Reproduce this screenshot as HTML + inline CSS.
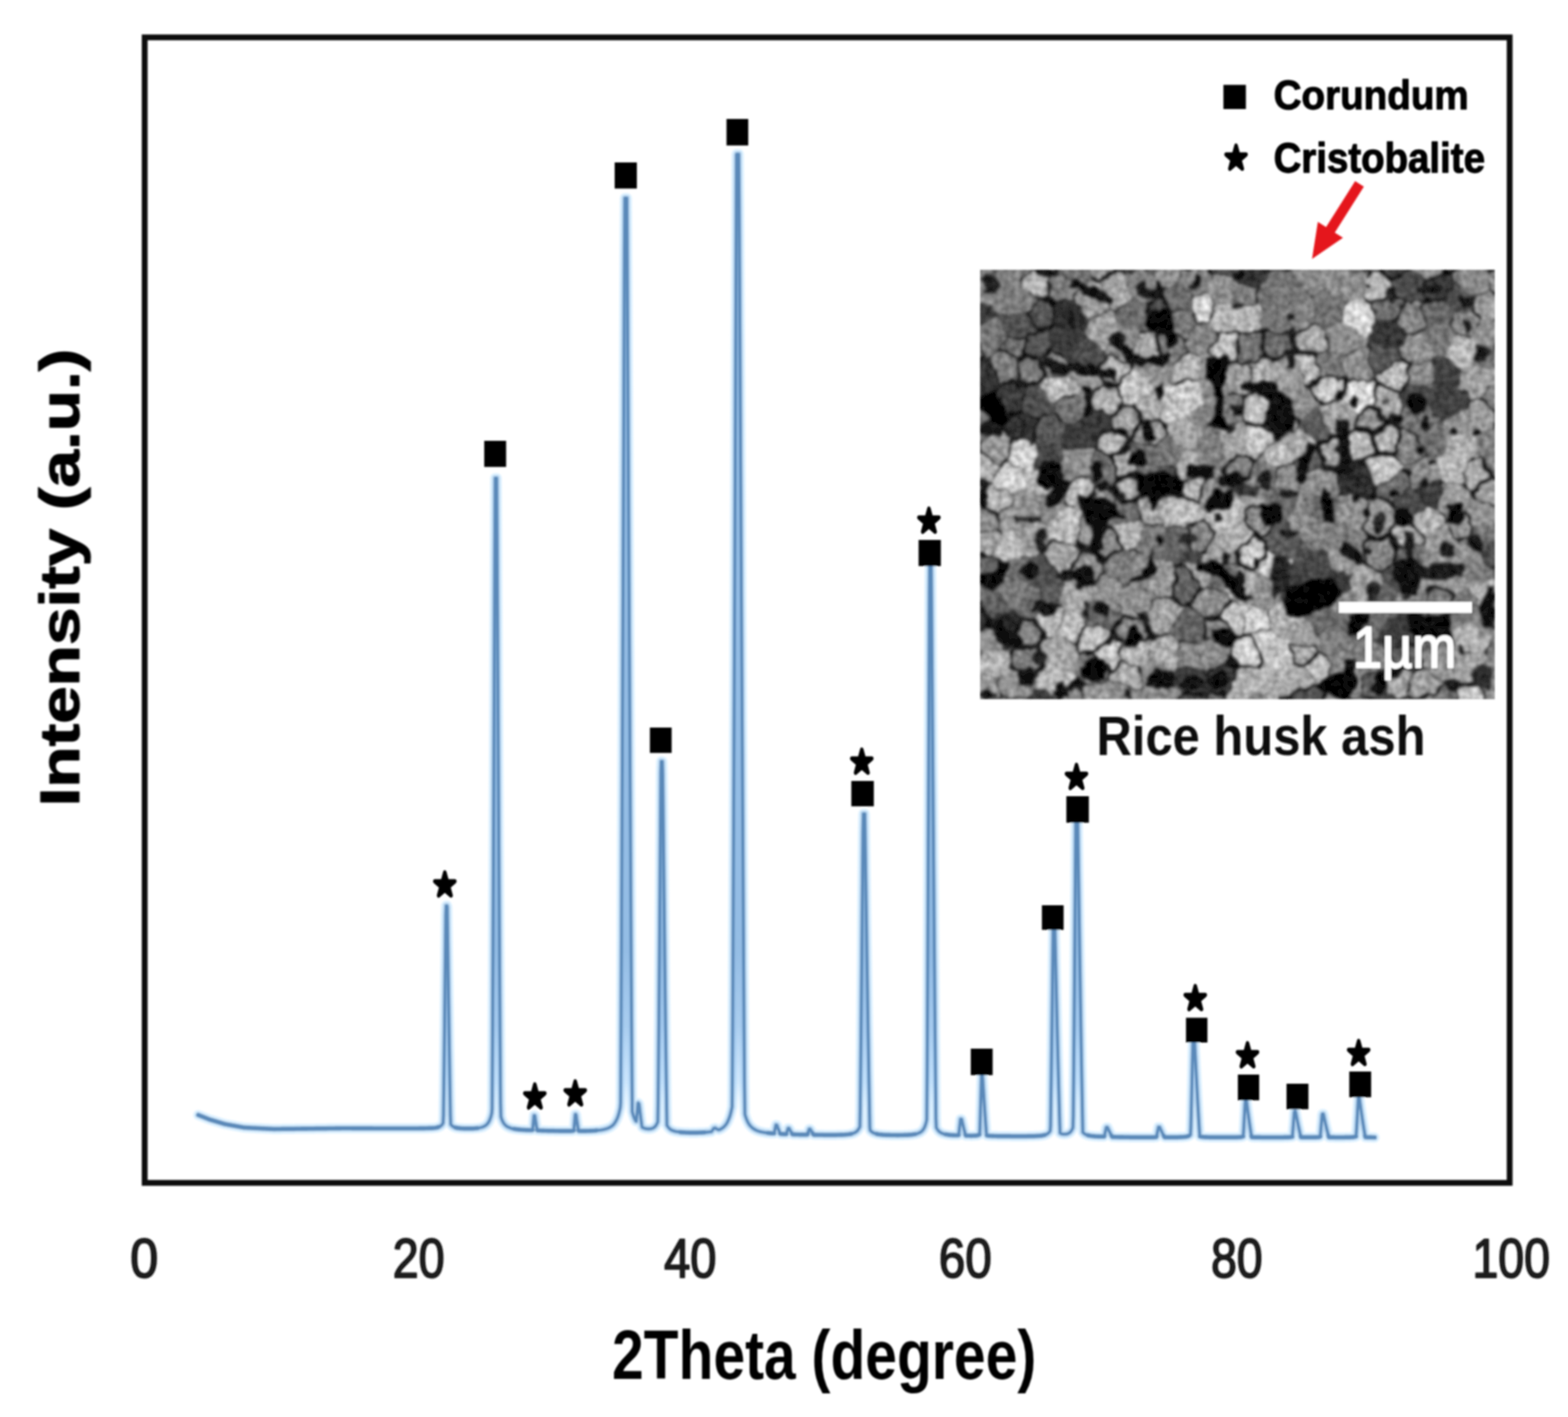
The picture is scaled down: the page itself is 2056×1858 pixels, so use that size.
<!DOCTYPE html>
<html lang="en"><head><meta charset="utf-8"><title>XRD pattern of rice husk ash</title>
<style>
html,body{margin:0;padding:0;background:#fff;}
body{width:2056px;height:1858px;overflow:hidden;}
svg{display:block;}
text{white-space:pre;}
</style></head><body>
<svg width="2056" height="1858" viewBox="0 0 2056 1858">
<defs>
<filter id="soft" x="-2%" y="-2%" width="104%" height="104%"><feGaussianBlur stdDeviation="1.3"/></filter>
</defs>
<rect width="2056" height="1858" fill="#fff"/>
<g filter="url(#soft)">
<g id="curve"><defs><path id="cv" d="M260,1462 260.5,1462.2 261,1462.4 261.5,1462.6 262,1462.8 262.5,1463 263,1463.2 263.5,1463.4 264,1463.6 264.5,1463.8 265,1464 265.5,1464.2 266,1464.4 266.5,1464.6 267,1464.8 267.5,1465 268,1465.2 268.5,1465.4 269,1465.6 269.5,1465.8 270,1466 270.5,1466.2 271,1466.4 271.5,1466.6 272,1466.8 272.5,1467 273,1467.2 273.5,1467.4 274,1467.6 274.5,1467.8 275,1468 275.5,1468.1 276,1468.3 276.5,1468.4 277,1468.6 277.5,1468.7 278,1468.9 278.5,1469 279,1469.2 279.5,1469.3 280,1469.5 280.5,1469.6 281,1469.8 281.5,1469.9 282,1470.1 282.5,1470.2 283,1470.4 283.5,1470.5 284,1470.7 284.5,1470.8 285,1471 285.5,1471.1 286,1471.3 286.5,1471.4 287,1471.6 287.5,1471.7 288,1471.9 288.5,1472 289,1472.2 289.5,1472.3 290,1472.5 290.5,1472.6 291,1472.8 291.5,1472.9 292,1473.1 292.5,1473.2 293,1473.4 293.5,1473.5 294,1473.7 294.5,1473.8 295,1474 295.5,1474.1 296,1474.1 296.5,1474.2 297,1474.3 297.5,1474.4 298,1474.5 298.5,1474.6 299,1474.7 299.5,1474.8 300,1474.9 300.5,1475 301,1475 301.5,1475.1 302,1475.2 302.5,1475.3 303,1475.4 303.5,1475.5 304,1475.6 304.5,1475.7 305,1475.8 305.5,1475.9 306,1475.9 306.5,1476 307,1476.1 307.5,1476.2 308,1476.3 308.5,1476.4 309,1476.5 309.5,1476.6 310,1476.7 310.5,1476.8 311,1476.8 311.5,1476.9 312,1477 312.5,1477.1 313,1477.2 313.5,1477.3 314,1477.4 314.5,1477.5 315,1477.6 315.5,1477.6 316,1477.7 316.5,1477.8 317,1477.9 317.5,1478 318,1478.1 318.5,1478.2 319,1478.3 319.5,1478.4 320,1478.5 320.5,1478.5 321,1478.5 321.5,1478.5 322,1478.6 322.5,1478.6 323,1478.6 323.5,1478.6 324,1478.7 324.5,1478.7 325,1478.7 325.5,1478.7 326,1478.8 326.5,1478.8 327,1478.8 327.5,1478.8 328,1478.9 328.5,1478.9 329,1478.9 329.5,1478.9 330,1479 332,1479.1 334,1479.2 336,1479.3 338,1479.4 340,1479.5 342,1479.6 344,1479.7 346,1479.8 348,1479.9 350,1480 352,1480.1 354,1480.2 356,1480.3 358,1480.4 360,1480.5 362,1480.4 364,1480.4 366,1480.4 368,1480.4 370,1480.3 372,1480.3 374,1480.3 376,1480.3 378,1480.2 380,1480.2 382,1480.2 384,1480.2 386,1480.2 388,1480.1 390,1480.1 392,1480.1 394,1480.1 396,1480 398,1480 400,1480 402,1480 404,1479.9 406,1479.9 408,1479.9 410,1479.9 412,1479.9 414,1479.8 416,1479.8 418,1479.8 420,1479.8 422,1479.7 424,1479.7 426,1479.7 428,1479.7 430,1479.6 432,1479.6 434,1479.6 436,1479.6 438,1479.6 440,1479.5 442,1479.5 444,1479.5 446,1479.5 448,1479.4 450,1479.4 452,1479.4 454,1479.4 456,1479.4 458,1479.4 460,1479.4 462,1479.5 464,1479.5 466,1479.5 468,1479.5 470,1479.5 472,1479.5 474,1479.5 476,1479.5 478,1479.5 480,1479.5 482,1479.5 484,1479.5 486,1479.5 488,1479.5 490,1479.6 492,1479.6 494,1479.6 496,1479.6 498,1479.6 500,1479.6 502,1479.6 504,1479.6 506,1479.6 508,1479.6 510,1479.6 512,1479.6 514,1479.6 516,1479.6 518,1479.6 520,1479.6 522,1479.6 524,1479.6 526,1479.6 528,1479.6 530,1479.6 532,1479.6 534,1479.6 536,1479.6 538,1479.6 540,1479.6 542,1479.6 544,1479.6 546,1479.6 548,1479.6 550,1479.5 552,1479.5 554,1479.5 556,1479.5 558,1479.4 560,1479.4 562,1479.3 564,1479.3 566,1479.2 568,1479.1 570,1478.9 572,1478.6 574,1478.1 574.5,1478 575,1477.8 575.5,1477.6 576,1477.4 576.5,1477.2 577,1476.9 577.5,1476.6 578,1476.2 578.5,1475.8 579,1475.3 579.5,1474.8 580,1474.1 580.5,1473.3 581,1472.5 581.5,1462.3 582,1423.9 582.5,1382 583,1338.1 583.5,1292.8 584,1246.6 584.5,1199.7 585,1187.6 585.5,1187.6 586,1187.6 586.5,1189.3 587,1225.7 587.5,1261.9 588,1297.6 588.5,1332.7 589,1366.9 589.5,1400.1 590,1431.8 590.5,1461.3 591,1474.1 591.5,1474.8 592,1475.4 592.5,1475.9 593,1476.3 593.5,1476.7 594,1477.1 594.5,1477.3 595,1477.6 595.5,1477.8 596,1478 596.5,1478.2 597,1478.4 597.5,1478.5 598,1478.6 598.5,1478.8 599,1478.9 599.5,1479 600,1479 600.5,1479.1 601,1479.2 601.5,1479.3 602,1479.3 604,1479.5 606,1479.6 608,1479.7 610,1479.8 612,1479.8 614,1479.8 616,1479.8 618,1479.8 620,1479.7 622,1479.6 624,1479.4 626,1479.2 628,1478.9 630,1478.5 632,1478 634,1477.3 636,1476.2 638,1474.7 638.8,1473.9 639.3,1473.3 639.8,1472.7 640,1472.4 640.3,1472 640.8,1471.2 641.3,1470.2 641.8,1469.2 642,1468.8 642.3,1468.1 642.8,1466.7 643.3,1465.3 643.8,1463.6 644,1462.8 644.3,1461.7 644.8,1459.5 645.3,1454.2 645.8,1365.9 646,1326.9 646.3,1266.3 646.8,1161.5 647.3,1053.1 647.8,941.9 648,896.8 648.3,828.7 648.8,713.9 649.3,626.9 649.8,626.9 650,626.9 650.3,626.9 650.8,626.9 651.3,626.9 651.8,702.9 652,738.8 652.3,792.4 652.8,881.1 653.3,968.7 653.8,1054.9 654,1088.9 654.3,1139.3 654.8,1221.6 655.3,1301.2 655.8,1377.1 656,1406 656.3,1446.6 656.8,1464 657.3,1465.7 657.8,1467.2 658,1467.7 658.3,1468.5 658.8,1469.7 659.3,1470.7 659.8,1471.7 660,1472 660.3,1472.5 660.8,1473.2 661.3,1473.9 661.8,1474.5 662,1474.7 662.3,1475 662.8,1475.5 663.3,1475.9 663.8,1476.3 664,1476.5 664.3,1476.7 664.8,1477 665.3,1477.3 665.8,1477.6 666,1477.7 666.3,1477.9 666.8,1478.1 668,1478.6 670,1479.3 672,1479.8 674,1480.2 676,1480.5 678,1480.8 680,1481 682,1481.2 684,1481.4 686,1481.5 688,1481.6 689.3,1481.7 689.8,1481.7 690,1481.7 690.3,1481.7 690.8,1481.8 691.3,1481.8 691.8,1481.8 692,1481.8 692.3,1481.8 692.8,1481.8 693.3,1481.8 693.8,1481.9 694,1481.9 694.3,1481.9 694.8,1481.9 695.3,1481.9 695.8,1481.8 696,1481.8 696.3,1481.8 696.8,1481.8 697.3,1481.8 697.8,1481.7 698,1481.7 698.3,1481.6 698.8,1477.3 699.3,1472.3 699.8,1466.9 700,1464.8 700.3,1462.7 700.8,1462.7 701.3,1463.1 701.8,1466.4 702,1467.7 702.3,1469.7 702.8,1472.9 703.3,1476 703.8,1478.9 704,1480 704.3,1481.5 704.8,1482.1 705.3,1482.2 705.8,1482.2 706,1482.2 706.3,1482.2 706.8,1482.3 707.3,1482.3 707.8,1482.3 708,1482.4 708.3,1482.4 708.8,1482.4 709.3,1482.4 709.8,1482.4 710,1482.4 710.3,1482.5 710.8,1482.5 711.3,1482.5 711.8,1482.5 712,1482.5 712.3,1482.5 712.8,1482.5 713.3,1482.6 713.8,1482.6 714,1482.6 714.3,1482.6 714.8,1482.6 715.3,1482.6 715.8,1482.6 716,1482.6 716.3,1482.6 716.8,1482.6 717.3,1482.7 718,1482.7 720,1482.7 722,1482.8 724,1482.8 726,1482.8 728,1482.9 730,1482.9 732,1482.9 734,1483 736,1483 738,1483 740,1483 742,1483 743.4,1483 743.9,1483 744,1483 744.4,1483 744.9,1483 745.4,1483 745.9,1483 746,1483 746.4,1483 746.9,1483 747.4,1483 747.9,1483 748,1483 748.4,1483 748.9,1482.9 749.4,1482.9 749.9,1482.9 750,1482.9 750.4,1482.8 750.9,1482.8 751.4,1482.7 751.9,1482.6 752,1482.6 752.4,1482.1 752.9,1477 753.4,1471.3 753.9,1465.2 754,1464 754.4,1461.2 754.9,1461.2 755.4,1462.1 755.9,1465.7 756,1466.4 756.4,1469.2 756.9,1472.6 757.4,1475.9 757.9,1479 758,1479.6 758.4,1481.8 758.9,1482.8 759.4,1482.9 759.9,1482.9 760,1482.9 760.4,1482.9 760.9,1482.9 761.4,1483 761.9,1483 762,1483 762.4,1483 762.9,1483 763.4,1483 763.9,1483 764,1483 764.4,1483 764.9,1483 765.4,1483 765.9,1483 766,1483 766.4,1483 766.9,1483 767.4,1483 767.9,1483 768,1483 768.4,1483 768.9,1482.9 769.4,1482.9 769.9,1482.9 770,1482.9 770.4,1482.9 770.9,1482.9 771.4,1482.9 772,1482.9 774,1482.8 776,1482.7 778,1482.6 780,1482.5 782,1482.3 784,1482.1 786,1481.9 788,1481.7 790,1481.3 792,1480.9 794,1480.4 796,1479.8 798,1479 800,1478 802,1476.7 804,1475 806,1472.6 808,1469.3 809.3,1466.5 809.8,1465.3 810,1464.7 810.3,1463.9 810.8,1462.4 811.3,1460.7 811.8,1458.9 812,1458.1 812.3,1456.9 812.8,1454.7 813.3,1452.3 813.8,1446.1 814,1412.3 814.3,1355.5 814.8,1253.8 815.3,1146.7 815.8,1035.9 816,990.8 816.3,922.3 816.8,806.3 817.3,688.5 817.8,569.1 818,521 818.3,448.5 818.8,327 819.3,259.7 819.8,259.7 820,259.7 820.3,259.7 820.8,259.7 821.3,259.7 821.8,259.7 822,259.7 822.3,303.4 822.8,397.4 823.3,491.1 823.8,584.3 824,621.4 824.3,676.7 824.8,768.2 825.3,858.6 825.8,947.6 826,982.8 826.3,1035.1 826.5,1069.6 826.8,1120.8 827,1154.6 827.3,1204.5 827.5,1237.2 827.8,1285.5 828,1317 828.3,1363 828.5,1392.6 828.8,1434.5 829,1457.4 829.3,1458.6 829.5,1459.4 829.8,1460.4 830,1461.1 830.3,1462.1 830.5,1462.7 830.8,1463.6 831,1464.1 831.3,1464.9 831.5,1465.5 831.8,1466.2 832,1466.6 832.3,1467.3 832.5,1467.7 832.8,1468.3 833,1468.7 833.3,1469.2 833.5,1469.5 833.8,1470 834,1470.2 834.3,1470.3 834.5,1468.6 834.8,1465.8 835,1463.8 835.3,1460.7 835.5,1458.5 835.8,1455.2 836,1452.9 836.3,1449.5 836.5,1447.1 836.8,1446.3 837,1446.5 837.3,1446.8 837.5,1447 838,1448.1 838.5,1452.3 839,1456.5 839.5,1460.6 840,1464.6 840.5,1468.4 841,1472 841.5,1475.5 842,1478 842.5,1478.3 843,1478.5 843.5,1478.8 844,1479 844.5,1479.2 845,1479.4 845.5,1479.5 846,1479.7 846.5,1479.8 847,1479.9 847.5,1480 848,1480.1 848.5,1480.1 849,1480.2 849.5,1480.2 850,1480.3 850.5,1480.3 851,1480.3 851.5,1480.2 852,1480.2 852.5,1480.2 853,1480.1 853.5,1480 854,1479.9 856,1479.2 856.5,1479 857,1478.7 857.5,1478.4 858,1478 858.5,1477.6 859,1477.1 859.5,1476.5 860,1475.8 860.5,1475.1 861,1474.2 861.5,1473.2 862,1472.1 862.5,1470.9 863,1443.5 863.5,1389.1 864,1330.8 864.5,1270 865,1207.5 865.5,1143.6 866,1078.8 866.5,1013.2 867,998.3 867.5,998.3 868,998.4 868.5,998.4 869,1015.6 869.5,1061.5 870,1107.3 870.5,1152.6 871,1197.5 871.5,1241.6 872,1284.8 872.5,1327.1 873,1368.2 873.5,1407.8 874,1445.2 874.5,1475.3 875,1476.3 875.5,1477.1 876,1477.8 876.5,1478.4 877,1479 877.5,1479.5 878,1480 878.5,1480.4 879,1480.8 879.5,1481.1 880,1481.4 880.5,1481.7 881,1481.9 881.5,1482.2 882,1482.4 882.5,1482.6 883,1482.7 883.5,1482.9 884,1483.1 884.5,1483.2 886,1483.6 888,1483.9 890,1484.2 892,1484.5 894,1484.7 896,1484.8 898,1484.9 900,1485.1 902,1485.1 904,1485.2 906,1485.2 908,1485.2 910,1485.2 912,1485.2 914,1485.2 916,1485.1 918,1485.1 920,1485 922,1484.9 924,1484.8 925.7,1484.7 926,1484.6 926.2,1484.6 926.7,1484.6 927.2,1484.5 927.7,1484.5 928,1484.5 928.2,1484.5 928.7,1484.4 929.2,1484.3 929.7,1484.3 930,1484.2 930.2,1484.2 930.7,1484.2 931.2,1484.1 931.7,1484 932,1484 932.2,1483.9 932.7,1483.9 933.2,1483.4 933.7,1482.8 934,1482.3 934.2,1482.1 934.7,1481.3 935.2,1480.6 935.7,1479.9 936,1479.5 936.2,1479.4 936.7,1479.3 937.2,1479.2 937.7,1479.1 938,1479.3 938.2,1479.4 938.7,1479.7 939.2,1480 939.7,1480.2 940,1480.4 940.2,1480.5 940.7,1480.7 941.2,1480.9 941.7,1481.1 942,1481.2 942.2,1481.3 942.7,1481.4 943.2,1481.2 943.7,1481 944,1480.9 944.2,1480.8 944.7,1480.5 945.2,1480.3 945.7,1480 946,1479.8 946.2,1479.7 946.7,1479.4 947.2,1479.1 947.7,1478.7 948,1478.5 948.2,1478.3 948.7,1477.9 949.2,1477.5 949.7,1477 950,1476.7 950.2,1476.5 950.7,1475.9 951.2,1475.3 951.7,1474.7 952,1474.3 952.2,1474 952.7,1473.2 953.2,1472.4 953.7,1471.6 954,1471 956,1466.5 956.2,1465.9 956.7,1464.5 957.2,1462.9 957.7,1461.2 958,1460.1 958.2,1459.3 958.7,1457.3 959.2,1455 959.7,1452.6 960,1451.1 960.2,1433.5 960.7,1341.2 961.2,1239.8 961.7,1133.6 962,1068.2 962.2,1024 962.7,911.6 963.2,797 963.7,680.6 964,610.1 964.2,562.7 964.7,443.6 965.2,323.5 965.7,202.8 966,202.1 966.2,202.1 966.7,202.1 967.2,202.1 967.7,202.1 968,202.1 968.2,202.1 968.7,202.1 969.2,261.1 969.7,350.5 970,404.1 970.2,439.7 970.7,528.4 971.2,616.6 971.7,703.9 972,755.8 972.2,790.3 972.7,875.6 973.2,959.7 973.7,1042.4 974,1091.2 974.2,1123.4 974.7,1202.6 975.2,1279.5 975.7,1353.3 976,1395.5 976.2,1422.4 976.7,1460.8 977.2,1462.6 977.7,1464.2 978,1465.1 978.2,1465.7 978.7,1467.1 979.2,1468.4 979.7,1469.5 980,1470.2 980.2,1470.6 980.7,1471.6 981.2,1472.5 981.7,1473.4 982,1473.8 982.2,1474.1 982.7,1474.9 983.2,1475.5 983.7,1476.2 984,1476.5 984.2,1476.7 986,1478.5 988,1480 990,1481.2 992,1482.2 994,1483 996,1483.6 998,1484.1 1000,1484.5 1002,1484.9 1004,1485.2 1006,1485.5 1007,1485.6 1007.5,1485.6 1008,1485.7 1008.5,1485.7 1009,1485.8 1009.5,1485.8 1010,1485.9 1010.5,1485.9 1011,1486 1011.5,1486 1012,1486 1012.5,1486 1013,1486.1 1013.5,1486.1 1014,1486.1 1014.5,1486.1 1015,1486.1 1015.5,1484.2 1016,1481.9 1016.5,1479.5 1017,1477 1017.5,1475.1 1018,1475.2 1018.5,1475.2 1019,1476.1 1019.5,1477.5 1020,1478.9 1020.5,1480.2 1021,1481.6 1021.5,1482.8 1022,1484.1 1022.5,1485.3 1023,1486.3 1023.5,1486.7 1024,1486.8 1024.5,1486.8 1025,1486.8 1025.5,1486.9 1026,1486.9 1026.5,1486.9 1027,1486.9 1027.5,1487 1028,1487 1028.5,1487 1029,1487 1029.5,1487 1030,1487 1030.5,1487 1031,1487 1031.5,1485.6 1032,1484 1032.5,1482.3 1033,1480.6 1033.5,1479.4 1034,1479.4 1034.5,1479.4 1035,1480.1 1035.5,1481.1 1036,1482 1036.5,1482.9 1037,1483.8 1037.5,1484.7 1038,1485.5 1038.5,1486.3 1039,1487.1 1039.5,1487.4 1040,1487.4 1040.5,1487.4 1041,1487.5 1041.5,1487.5 1042,1487.5 1042.5,1487.5 1043,1487.5 1043.5,1487.6 1044,1487.6 1044.5,1487.6 1045,1487.6 1045.5,1487.6 1046,1487.6 1046.5,1487.6 1047,1487.6 1047.5,1487.7 1048,1487.7 1048.5,1487.7 1049,1487.7 1049.5,1487.7 1050,1487.7 1050.5,1487.7 1050.7,1487.7 1051,1487.7 1051.2,1487.7 1051.7,1487.7 1052,1487.7 1052.2,1487.7 1052.7,1487.8 1053.2,1487.8 1053.7,1487.8 1054,1487.8 1054.2,1487.8 1054.7,1487.8 1055.2,1487.8 1055.7,1487.8 1056,1487.8 1056.2,1487.8 1056.7,1487.8 1057.2,1487.8 1057.7,1487.7 1058,1487.7 1058.2,1487.7 1058.7,1487.6 1059.2,1486.2 1059.7,1484.7 1060,1483.8 1060.2,1483.1 1060.7,1481.4 1061.2,1480.4 1061.7,1480.4 1062,1480.4 1062.2,1480.4 1062.7,1481.1 1063.2,1482 1063.7,1482.9 1064,1483.4 1064.2,1483.7 1064.7,1484.6 1065.2,1485.4 1065.7,1486.2 1066,1486.6 1066.2,1486.9 1066.7,1487.6 1067.2,1487.9 1067.7,1488 1068,1488 1068.2,1488 1068.7,1488 1069.2,1488 1069.7,1488 1070,1488 1070.2,1488 1070.7,1488 1071.2,1488.1 1071.7,1488.1 1072,1488.1 1072.2,1488.1 1072.7,1488.1 1073.2,1488.1 1073.7,1488.1 1074,1488.1 1074.2,1488.1 1074.7,1488.1 1075.2,1488.1 1075.7,1488.1 1076,1488.1 1076.2,1488.1 1076.7,1488.1 1077.2,1488.1 1077.7,1488.1 1078,1488.1 1078.2,1488.1 1078.7,1488.1 1080,1488.2 1082,1488.2 1084,1488.2 1086,1488.2 1088,1488.2 1090,1488.2 1092,1488.2 1094,1488.2 1096,1488.2 1098,1488.1 1100,1488.1 1102,1488 1104,1488 1106,1487.9 1108,1487.8 1110,1487.6 1112,1487.4 1114,1487.1 1116,1486.8 1118,1486.3 1120,1485.5 1122,1484.5 1122.5,1484.1 1123,1483.7 1123.5,1483.3 1124,1482.8 1124.5,1482.3 1125,1481.6 1125.5,1480.9 1126,1480.2 1126.5,1479.3 1127,1478.3 1127.5,1477.2 1128,1450.3 1128.5,1404.7 1129,1355.9 1129.5,1305.3 1130,1253.2 1130.5,1200 1131,1146 1131.5,1091.3 1132,1067.1 1132.5,1067.1 1133,1067.1 1133.5,1067.1 1134,1067.1 1134.5,1100.9 1135,1135.2 1135.5,1169.4 1136,1203.3 1136.5,1236.8 1137,1269.8 1137.5,1302.3 1138,1334.2 1138.5,1365.3 1139,1395.6 1139.5,1424.9 1140,1452.8 1140.5,1478 1141,1482 1141.5,1482.6 1142,1483.1 1142.5,1483.6 1143,1484 1143.5,1484.4 1144,1484.7 1144.5,1485 1145,1485.3 1145.5,1485.5 1146,1485.7 1146.5,1486 1147,1486.1 1147.5,1486.3 1148,1486.5 1148.5,1486.6 1149,1486.7 1149.5,1486.8 1150,1487 1152,1487.3 1154,1487.6 1156,1487.8 1158,1488 1160,1488.1 1162,1488.2 1164,1488.3 1166,1488.3 1168,1488.4 1170,1488.4 1172,1488.4 1174,1488.4 1176,1488.5 1178,1488.5 1180,1488.4 1182,1488.4 1184,1488.4 1186,1488.3 1188,1488.3 1190,1488.2 1192,1488 1194,1487.9 1196,1487.7 1198,1487.4 1200,1487.1 1202,1486.7 1204,1486 1206,1485.1 1208,1483.8 1209.2,1482.7 1209.7,1482.2 1210,1481.8 1210.2,1481.6 1210.7,1480.9 1211.2,1480.1 1211.7,1479.2 1212,1478.6 1212.2,1478.2 1212.7,1477 1213.2,1475.7 1213.7,1474.1 1214,1473.1 1214.2,1472.4 1214.7,1470.4 1215.2,1468.1 1215.7,1407.9 1216,1351.5 1216.2,1312.3 1216.7,1210.5 1217.2,1104.8 1217.7,996.1 1218,929.8 1218.2,885.3 1218.7,772.9 1219.2,721.2 1219.7,721.2 1220,721.2 1220.2,721.2 1220.7,721.2 1221.2,753.2 1221.7,818 1222,856.8 1222.2,882.6 1222.7,946.8 1223.2,1010.2 1223.7,1072.7 1224,1109.7 1224.2,1134.1 1224.7,1194.3 1225.2,1253.1 1225.7,1310.3 1226,1343.7 1226.2,1365.6 1226.7,1418.2 1227.2,1466.4 1227.7,1478.3 1228,1478.9 1228.2,1479.3 1228.7,1480.2 1229.2,1481 1229.7,1481.7 1230,1482.1 1230.2,1482.3 1230.7,1482.9 1231.2,1483.4 1231.7,1483.8 1232,1484.1 1232.2,1484.2 1232.7,1484.6 1233.2,1484.9 1233.7,1485.2 1234,1485.4 1234.2,1485.5 1234.7,1485.7 1235.2,1486 1235.7,1486.2 1236,1486.3 1236.2,1486.4 1236.7,1486.5 1237.2,1486.7 1238,1486.9 1240,1487.4 1242,1487.7 1244,1488 1246,1488.2 1248,1488.4 1249.5,1488.5 1250,1488.5 1250.5,1488.5 1251,1488.5 1251.5,1488.6 1252,1488.6 1252.5,1488.6 1253,1488.6 1253.5,1488.6 1254,1488.6 1254.5,1488.6 1255,1488.5 1255.5,1488.5 1256,1488.5 1256.5,1488.4 1257,1488.2 1257.5,1484.6 1258,1480.5 1258.5,1476.2 1259,1471.7 1259.5,1467.4 1260,1467.4 1260.5,1467.4 1261,1467.9 1261.5,1470.1 1262,1472.3 1262.5,1474.4 1263,1476.6 1263.5,1478.6 1264,1480.7 1264.5,1482.6 1265,1484.5 1265.5,1486.3 1266,1488 1266.5,1489 1267,1489 1267.5,1489 1268,1489 1268.5,1489.1 1269,1489.1 1269.5,1489.1 1270,1489.1 1270.5,1489.1 1271,1489.1 1271.5,1489.1 1272,1489.2 1272.5,1489.2 1273,1489.2 1273.5,1489.2 1274,1489.2 1274.5,1489.2 1275,1489.2 1275.5,1489.1 1276,1489.1 1276.5,1489.1 1277,1489.1 1277.5,1489.1 1278,1489.1 1278.5,1489 1279,1489 1279.5,1489 1280,1488.9 1280.5,1488.8 1281,1488.8 1281.5,1488.7 1282,1488.5 1282.5,1488.4 1283,1488.2 1283.5,1488 1284,1487.7 1284.5,1487.4 1285,1477.5 1285.5,1461.9 1286,1445.2 1286.5,1427.8 1287,1410.9 1287.5,1410.9 1288,1410.9 1288.5,1414.1 1289,1422.1 1289.5,1430.1 1290,1438 1290.5,1445.7 1291,1453.3 1291.5,1460.6 1292,1467.7 1292.5,1474.6 1293,1481.2 1293.5,1487.2 1294,1488.8 1294.5,1488.9 1295,1489 1295.5,1489.1 1296,1489.2 1296.5,1489.2 1297,1489.3 1297.5,1489.3 1298,1489.3 1298.5,1489.4 1299,1489.4 1299.5,1489.4 1300,1489.4 1300.5,1489.5 1301,1489.5 1301.5,1489.5 1302,1489.5 1302.5,1489.5 1303,1489.6 1303.5,1489.6 1304,1489.6 1304.5,1489.6 1305,1489.6 1306,1489.6 1308,1489.7 1310,1489.7 1312,1489.7 1314,1489.8 1316,1489.8 1318,1489.8 1320,1489.8 1322,1489.8 1324,1489.8 1326,1489.9 1328,1489.9 1330,1489.9 1332,1489.9 1334,1489.9 1336,1489.9 1338,1489.9 1340,1489.9 1342,1489.9 1344,1489.9 1346,1489.9 1348,1489.8 1350,1489.8 1352,1489.8 1354,1489.7 1356,1489.7 1358,1489.6 1360,1489.5 1362,1489.4 1364,1489.2 1366,1489 1368,1488.6 1370,1488.2 1371.5,1487.6 1372,1487.4 1372.5,1487.2 1373,1486.9 1373.5,1486.6 1374,1486.2 1374.5,1485.8 1375,1485.3 1375.5,1484.8 1376,1484.2 1376.5,1483.5 1377,1482.7 1377.5,1476.3 1378,1443.3 1378.5,1407 1379,1369 1379.5,1329.7 1380,1289.5 1380.5,1248.6 1381,1208.8 1381.5,1208.8 1382,1208.8 1382.5,1208.8 1383,1208.8 1383.5,1230.4 1384,1252.3 1384.5,1274.2 1385,1295.8 1385.5,1317.2 1386,1338.3 1386.5,1359 1387,1379.3 1387.5,1399.1 1388,1418.5 1388.5,1437.3 1389,1455.4 1389.5,1472.5 1390,1485.7 1390.5,1486 1391,1486.2 1391.5,1486.5 1392,1486.7 1392.5,1486.8 1393,1486.9 1393.5,1487 1394,1487.1 1394.5,1487.2 1395,1487.2 1395.5,1487.2 1396,1487.2 1396.5,1487.2 1397,1487.2 1397.5,1487.1 1398,1487.1 1398.5,1487 1399,1486.8 1399.5,1486.7 1400,1486.5 1401.3,1485.9 1401.8,1485.6 1402,1485.5 1402.3,1485.3 1402.8,1484.9 1403.3,1484.4 1403.8,1483.9 1404,1483.7 1404.3,1483.3 1404.8,1482.6 1405.3,1481.8 1405.8,1480.9 1406,1480.5 1406.3,1479.8 1406.8,1478.6 1407.3,1464.2 1407.8,1411.9 1408,1389.5 1408.3,1354.9 1408.8,1295.3 1409.3,1233.7 1409.8,1170.8 1410,1145.3 1410.3,1106.9 1410.8,1050.9 1411.3,1050.9 1411.8,1051 1412,1051 1412.3,1051 1412.8,1053.8 1413.3,1087.6 1413.8,1121.4 1414,1134.9 1414.3,1155.1 1414.8,1188.5 1415.3,1221.4 1415.8,1253.9 1416,1266.7 1416.3,1285.8 1416.8,1317.2 1417.3,1347.8 1417.8,1377.7 1418,1389.5 1418.3,1406.8 1418.8,1434.8 1419.3,1461.4 1419.8,1484.6 1420,1484.8 1420.3,1485.1 1420.8,1485.6 1421.3,1486 1421.8,1486.4 1422,1486.6 1422.3,1486.8 1422.8,1487.1 1423.3,1487.3 1423.8,1487.6 1424,1487.7 1424.3,1487.8 1424.8,1488 1425.3,1488.2 1425.8,1488.4 1426,1488.4 1426.3,1488.5 1426.8,1488.7 1427.3,1488.8 1427.8,1488.9 1428,1488.9 1428.3,1489 1428.8,1489.1 1429.3,1489.2 1430,1489.3 1432,1489.6 1434,1489.8 1436,1490 1438,1490.1 1440,1490.2 1441,1490.3 1441.5,1490.3 1442,1490.3 1442.5,1490.3 1443,1490.3 1443.5,1490.3 1444,1490.3 1444.5,1490.3 1445,1490.3 1445.5,1490.3 1446,1490.3 1446.5,1490.3 1447,1490.3 1447.5,1490.3 1448,1489.8 1448.5,1487.9 1449,1485.7 1449.5,1483.5 1450,1481.1 1450.5,1478.7 1451,1478.2 1451.5,1478.2 1452,1478.2 1452.5,1479 1453,1480.1 1453.5,1481.2 1454,1482.3 1454.5,1483.3 1455,1484.3 1455.5,1485.4 1456,1486.3 1456.5,1487.3 1457,1488.2 1457.5,1489.1 1458,1490 1458.5,1490.7 1459,1490.7 1459.5,1490.8 1460,1490.8 1460.5,1490.8 1461,1490.8 1461.5,1490.8 1462,1490.8 1462.5,1490.8 1463,1490.9 1463.5,1490.9 1464,1490.9 1464.5,1490.9 1465,1490.9 1465.5,1490.9 1466,1490.9 1466.5,1490.9 1467,1490.9 1467.5,1491 1468,1491 1468.5,1491 1469,1491 1470,1491 1472,1491 1474,1491.1 1476,1491.1 1478,1491.1 1480,1491.1 1482,1491.2 1484,1491.2 1486,1491.2 1488,1491.2 1490,1491.2 1492,1491.3 1494,1491.3 1496,1491.3 1498,1491.3 1500,1491.3 1502,1491.3 1504,1491.3 1506,1491.3 1508,1491.3 1509.5,1491.3 1510,1491.3 1510.5,1491.3 1511,1491.2 1511.5,1491.2 1512,1491.2 1512.5,1491.2 1513,1491.2 1513.5,1491.2 1514,1491.1 1514.5,1491.1 1515,1491.1 1515.5,1491 1516,1491 1516.5,1490.1 1517,1487.9 1517.5,1485.5 1518,1483 1518.5,1480.5 1519,1477.9 1519.5,1477.9 1520,1477.9 1520.5,1477.9 1521,1479 1521.5,1480.1 1522,1481.2 1522.5,1482.3 1523,1483.4 1523.5,1484.4 1524,1485.5 1524.5,1486.5 1525,1487.5 1525.5,1488.4 1526,1489.3 1526.5,1490.2 1527,1491 1527.5,1491.2 1528,1491.2 1528.5,1491.2 1529,1491.2 1529.5,1491.2 1530,1491.2 1530.5,1491.2 1531,1491.2 1531.5,1491.3 1532,1491.3 1532.5,1491.3 1533,1491.3 1533.5,1491.3 1534,1491.3 1534.5,1491.3 1535,1491.3 1535.5,1491.3 1536,1491.2 1536.5,1491.2 1537,1491.2 1537.5,1491.2 1538,1491.2 1540,1491.2 1542,1491.2 1544,1491.2 1546,1491.1 1548,1491 1550,1490.9 1552,1490.8 1554,1490.6 1555,1490.5 1555.5,1490.4 1556,1490.3 1556.5,1490.1 1557,1490 1557.5,1489.9 1558,1489.7 1558.5,1489.5 1559,1489.3 1559.5,1489 1560,1488.7 1560.5,1488.3 1561,1487.8 1561.5,1477.2 1562,1458.3 1562.5,1438.1 1563,1417 1563.5,1395.4 1564,1373.3 1564.5,1360 1565,1360 1565.5,1360 1566,1360 1566.5,1368.8 1567,1378.8 1567.5,1388.8 1568,1398.7 1568.5,1408.5 1569,1418.2 1569.5,1427.6 1570,1436.9 1570.5,1446 1571,1454.8 1571.5,1463.5 1572,1471.8 1572.5,1479.8 1573,1487.2 1573.5,1490.1 1574,1490.2 1574.5,1490.3 1575,1490.4 1575.5,1490.5 1576,1490.6 1576.5,1490.6 1577,1490.7 1577.5,1490.7 1578,1490.8 1578.5,1490.8 1579,1490.9 1579.5,1490.9 1580,1490.9 1580.5,1491 1581,1491 1581.5,1491 1582,1491 1582.5,1491.1 1583,1491.1 1584,1491.1 1586,1491.2 1588,1491.2 1590,1491.2 1592,1491.3 1594,1491.3 1596,1491.3 1598,1491.3 1600,1491.3 1602,1491.3 1604,1491.3 1606,1491.3 1608,1491.3 1610,1491.3 1612,1491.3 1614,1491.3 1616,1491.3 1618,1491.3 1620,1491.3 1622,1491.2 1623.5,1491.1 1624,1491.1 1624.5,1491.1 1625,1491.1 1625.5,1491 1626,1491 1626.5,1490.9 1627,1490.9 1627.5,1490.8 1628,1490.7 1628.5,1490.6 1629,1490.4 1629.5,1490.3 1630,1490.1 1630.5,1485 1631,1476.6 1631.5,1467.6 1632,1458.3 1632.5,1448.8 1633,1442.9 1633.5,1442.9 1634,1442.9 1634.5,1444.4 1635,1448.3 1635.5,1452.1 1636,1455.9 1636.5,1459.7 1637,1463.3 1637.5,1467 1638,1470.5 1638.5,1473.9 1639,1477.3 1639.5,1480.6 1640,1483.8 1640.5,1486.8 1641,1489.6 1641.5,1491 1642,1491.1 1642.5,1491.1 1643,1491.1 1643.5,1491.2 1644,1491.2 1644.5,1491.2 1645,1491.2 1645.5,1491.2 1646,1491.2 1646.5,1491.3 1647,1491.3 1647.5,1491.3 1648,1491.3 1648.5,1491.3 1649,1491.3 1649.5,1491.3 1650,1491.3 1650.5,1491.3 1651,1491.3 1651.5,1491.3 1652,1491.3 1654,1491.4 1656,1491.4 1658,1491.4 1660,1491.4 1662,1491.4 1664,1491.4 1666,1491.4 1668,1491.4 1670,1491.4 1672,1491.4 1674,1491.4 1676,1491.4 1678,1491.4 1680,1491.4 1682,1491.4 1684,1491.3 1686,1491.3 1688,1491.2 1688.5,1491.2 1689,1491.2 1689.5,1491.2 1690,1491.1 1690.5,1491.1 1691,1491.1 1691.5,1491 1692,1491 1692.5,1490.9 1693,1490.8 1693.5,1490.7 1694,1490.6 1694.5,1490.5 1695,1485.4 1695.5,1479.4 1696,1473 1696.5,1466.4 1697,1459.6 1697.5,1457.2 1698,1457.2 1698.5,1457.2 1699,1458.9 1699.5,1461.5 1700,1464.1 1700.5,1466.7 1701,1469.2 1701.5,1471.7 1702,1474.2 1702.5,1476.6 1703,1478.9 1703.5,1481.2 1704,1483.4 1704.5,1485.6 1705,1487.7 1705.5,1489.7 1706,1491.1 1706.5,1491.2 1707,1491.2 1707.5,1491.2 1708,1491.2 1708.5,1491.3 1709,1491.3 1709.5,1491.3 1710,1491.3 1710.5,1491.3 1711,1491.3 1711.5,1491.3 1712,1491.3 1712.5,1491.3 1713,1491.3 1713.5,1491.3 1714,1491.3 1714.5,1491.3 1715,1491.3 1715.5,1491.3 1716,1491.3 1718,1491.3 1720,1491.3 1722,1491.3 1724,1491.3 1724.6,1491.2 1725.1,1491.2 1725.6,1491.2 1726,1491.2 1726.1,1491.2 1726.6,1491.2 1727.1,1491.1 1727.6,1491.1 1728,1491.1 1728.1,1491.1 1728.6,1491 1729.1,1490.9 1729.6,1490.9 1730,1490.8 1730.1,1490.8 1730.6,1490.7 1731.1,1490.2 1731.6,1485.2 1732,1480.9 1732.1,1479.7 1732.6,1474 1733.1,1468 1733.6,1461.9 1734,1460.7 1734.1,1460.7 1734.6,1460.7 1735.1,1460.7 1735.6,1462.5 1736,1464.3 1736.1,1464.8 1736.6,1467.1 1737.1,1469.4 1737.6,1471.6 1738,1473.4 1738.1,1473.8 1738.6,1475.9 1739.1,1478 1739.6,1480.1 1740,1481.7 1740.1,1482.1 1740.6,1484.1 1741.1,1486 1741.6,1487.8 1742,1489.2 1742.1,1489.6 1742.6,1491.1 1743.1,1491.2 1743.6,1491.2 1744,1491.2 1744.1,1491.2 1744.6,1491.3 1745.1,1491.3 1745.6,1491.3 1746,1491.3 1746.1,1491.3 1746.6,1491.3 1747.1,1491.3 1747.6,1491.3 1748,1491.3 1748.1,1491.3 1748.6,1491.3 1749.1,1491.3 1749.6,1491.3 1750,1491.4 1750.1,1491.4 1750.6,1491.4 1751.1,1491.4 1751.6,1491.4 1752,1491.4 1752.1,1491.4 1752.6,1491.4 1754,1491.4 1756,1491.4 1758,1491.4 1760,1491.4 1762,1491.4 1764,1491.3 1766,1491.3 1768,1491.3 1770,1491.2 1772,1491.1 1772.5,1491.1 1773,1491.1 1773.5,1491 1774,1491 1774.5,1490.9 1775,1490.8 1775.5,1490.8 1776,1490.7 1776.5,1490.5 1777,1490.4 1777.5,1490.3 1778,1490.1 1778.5,1485 1779,1476.7 1779.5,1467.8 1780,1458.7 1780.5,1449.3 1781,1440.6 1781.5,1440.6 1782,1440.6 1782.5,1440.6 1783,1443.9 1783.5,1447.5 1784,1451.1 1784.5,1454.7 1785,1458.2 1785.5,1461.6 1786,1465 1786.5,1468.4 1787,1471.6 1787.5,1474.8 1788,1477.9 1788.5,1481 1789,1483.9 1789.5,1486.8 1790,1489.4 1790.5,1491.1 1791,1491.1 1791.5,1491.1 1792,1491.2 1792.5,1491.2 1793,1491.2 1793.5,1491.2 1794,1491.2 1794.5,1491.3 1795,1491.3 1795.5,1491.3 1796,1491.3 1796.5,1491.3 1797,1491.3 1797.5,1491.3 1798,1491.3 1798.5,1491.3 1799,1491.4 1799.5,1491.4 1800,1491.4 1802,1491.4 1802.4,1491.4"/><linearGradient id="pf" gradientUnits="userSpaceOnUse" x1="0" y1="1250" x2="0" y2="1462"><stop offset="0" stop-color="#8db8e2" stop-opacity="0.9"/><stop offset="0.45" stop-color="#96c0ea" stop-opacity="0.75"/><stop offset="0.8" stop-color="#a6d0f8" stop-opacity="0.45"/><stop offset="1" stop-color="#c8e6ff" stop-opacity="0"/></linearGradient></defs><use href="#cv" fill="none" stroke="#dcf1ff" stroke-width="13.5" stroke-linejoin="round" stroke-linecap="round" opacity="0.9"/><use href="#cv" fill="none" stroke="#b4d3ee" stroke-width="8" stroke-linejoin="round" stroke-linecap="round"/><path d="M581.5,1462.3 582.5,1382 583.5,1292.8 584.5,1199.7 585.5,1187.6 586.5,1189.3 587.5,1261.9 588.5,1332.7 589.5,1400.1 590.5,1461.3Z M642.8,1466.7 643.8,1463.6 644.3,1461.7 645.3,1454.2 646,1326.9 646.8,1161.5 647.8,941.9 648.3,828.7 649.3,626.9 650,626.9 650.8,626.9 651.8,702.9 652.3,792.4 653.3,968.7 654,1088.9 654.8,1221.6 655.8,1377.1 656.3,1446.6 657.3,1465.7 658,1467.7Z M699.8,1466.9 700.3,1462.7 701.3,1463.1 702,1467.7Z M753.9,1465.2 754.4,1461.2 755.4,1462.1 756,1466.4Z M808,1469.3 809.8,1465.3 810.3,1463.9 811.3,1460.7 812,1458.1 812.8,1454.7 813.8,1446.1 814.3,1355.5 815.3,1146.7 816,990.8 816.8,806.3 817.8,569.1 818.3,448.5 819.3,259.7 820,259.7 820.8,259.7 821.8,259.7 822.3,303.4 823.3,491.1 824,621.4 824.8,768.2 825.8,947.6 826.3,1035.1 826.8,1120.8 827.3,1204.5 827.8,1285.5 828.3,1363 828.8,1434.5 829.3,1458.6 829.8,1460.4 830.3,1462.1 830.8,1463.6 831.3,1464.9 831.8,1466.2 832.3,1467.3 832.8,1468.3 833.3,1469.2 833.8,1470 834.3,1470.3 834.8,1465.8 835.3,1460.7 835.8,1455.2 836.3,1449.5 836.8,1446.3 837.3,1446.8 838,1448.1 839,1456.5 840,1464.6Z M862,1472.1 863,1443.5 864,1330.8 865,1207.5 866,1078.8 867,998.3 868,998.4 869,1015.6 870,1107.3 871,1197.5 872,1284.8 873,1368.2 874,1445.2Z M952.7,1473.2 953.7,1471.6 956,1466.5 956.7,1464.5 957.7,1461.2 958.2,1459.3 959.2,1455 960,1451.1 960.7,1341.2 961.7,1133.6 962.2,1024 963.2,797 964,610.1 964.7,443.6 965.7,202.8 966.2,202.1 967.2,202.1 968,202.1 968.7,202.1 969.7,350.5 970.2,439.7 971.2,616.6 972,755.8 972.7,875.6 973.7,1042.4 974.2,1123.4 975.2,1279.5 976,1395.5 976.7,1460.8 977.7,1464.2 978.2,1465.7 979.2,1468.4 980,1470.2 980.7,1471.6 981.7,1473.4Z M1128,1450.3 1129,1355.9 1130,1253.2 1131,1146 1132,1067.1 1133,1067.1 1134,1067.1 1135,1135.2 1136,1203.3 1137,1269.8 1138,1334.2 1139,1395.6 1140,1452.8Z M1213.7,1474.1 1214.2,1472.4 1215.2,1468.1 1216,1351.5 1216.7,1210.5 1217.7,996.1 1218.2,885.3 1219.2,721.2 1220,721.2 1220.7,721.2 1221.7,818 1222.2,882.6 1223.2,1010.2 1224,1109.7 1224.7,1194.3 1225.7,1310.3 1226.2,1365.6 1227.2,1466.4Z M1259,1471.7 1260,1467.4 1261,1467.9 1262,1472.3Z M1285.5,1461.9 1286.5,1427.8 1287.5,1410.9 1288.5,1414.1 1289.5,1430.1 1290.5,1445.7 1291.5,1460.6 1292.5,1474.6Z M1377.5,1476.3 1378.5,1407 1379.5,1329.7 1380.5,1248.6 1381.5,1208.8 1382.5,1208.8 1383.5,1230.4 1384.5,1274.2 1385.5,1317.2 1386.5,1359 1387.5,1399.1 1388.5,1437.3 1389.5,1472.5Z M1407.3,1464.2 1408,1389.5 1408.8,1295.3 1409.8,1170.8 1410.3,1106.9 1411.3,1050.9 1412,1051 1412.8,1053.8 1413.8,1121.4 1414.3,1155.1 1415.3,1221.4 1416,1266.7 1416.8,1317.2 1417.8,1377.7 1418.3,1406.8 1419.3,1461.4Z M1561.5,1477.2 1562.5,1438.1 1563.5,1395.4 1564.5,1360 1565.5,1360 1566.5,1368.8 1567.5,1388.8 1568.5,1408.5 1569.5,1427.6 1570.5,1446 1571.5,1463.5Z M1631,1476.6 1632,1458.3 1633,1442.9 1634,1442.9 1635,1448.3 1636,1455.9 1637,1463.3 1638,1470.5 1639,1477.3Z M1696,1473 1697,1459.6 1698,1457.2 1699,1458.9 1700,1464.1 1701,1469.2 1702,1474.2Z M1732.6,1474 1733.6,1461.9 1734.1,1460.7 1735.1,1460.7 1736,1464.3 1736.6,1467.1 1737.6,1471.6 1738.1,1473.8Z M1779,1476.7 1780,1458.7 1781,1440.6 1782,1440.6 1783,1443.9 1784,1451.1 1785,1458.2 1786,1465 1787,1471.6Z" fill="url(#pf)" stroke="none"/><path d="M260,1462 260.5,1462.2 261,1462.4 261.5,1462.6 262,1462.8 262.5,1463 263,1463.2 263.5,1463.4 264,1463.6 264.5,1463.8 265,1464 265.5,1464.2 266,1464.4 266.5,1464.6 267,1464.8 267.5,1465 268,1465.2 268.5,1465.4 269,1465.6 269.5,1465.8 270,1466 270.5,1466.2 271,1466.4 271.5,1466.6 272,1466.8 272.5,1467 273,1467.2 273.5,1467.4 274,1467.6 274.5,1467.8 275,1468 275.5,1468.1 276,1468.3 276.5,1468.4 277,1468.6 277.5,1468.7 278,1468.9 278.5,1469 279,1469.2 279.5,1469.3 280,1469.5 280.5,1469.6 281,1469.8 281.5,1469.9 282,1470.1 282.5,1470.2 283,1470.4 283.5,1470.5 284,1470.7 284.5,1470.8 285,1471 285.5,1471.1 286,1471.3 286.5,1471.4 287,1471.6 287.5,1471.7 288,1471.9 288.5,1472 289,1472.2 289.5,1472.3 290,1472.5 290.5,1472.6 291,1472.8 291.5,1472.9 292,1473.1 292.5,1473.2 293,1473.4 293.5,1473.5 294,1473.7 294.5,1473.8 295,1474 295.5,1474.1 296,1474.1 296.5,1474.2 297,1474.3 297.5,1474.4 298,1474.5 298.5,1474.6 299,1474.7 299.5,1474.8 300,1474.9 300.5,1475 301,1475 301.5,1475.1 302,1475.2 302.5,1475.3 303,1475.4 303.5,1475.5 304,1475.6 304.5,1475.7 305,1475.8 305.5,1475.9 306,1475.9 306.5,1476 307,1476.1 307.5,1476.2 308,1476.3 308.5,1476.4 309,1476.5 309.5,1476.6 310,1476.7 310.5,1476.8 311,1476.8 311.5,1476.9 312,1477 312.5,1477.1 313,1477.2 313.5,1477.3 314,1477.4 314.5,1477.5 315,1477.6 315.5,1477.6 316,1477.7 316.5,1477.8 317,1477.9 317.5,1478 318,1478.1 318.5,1478.2 319,1478.3 319.5,1478.4 320,1478.5 320.5,1478.5 321,1478.5 321.5,1478.5 322,1478.6 322.5,1478.6 323,1478.6 323.5,1478.6 324,1478.7 324.5,1478.7 325,1478.7 325.5,1478.7 326,1478.8 326.5,1478.8 327,1478.8 327.5,1478.8 328,1478.9 328.5,1478.9 329,1478.9 329.5,1478.9 330,1479 332,1479.1 334,1479.2 336,1479.3 338,1479.4 340,1479.5 342,1479.6 344,1479.7 346,1479.8 348,1479.9 350,1480 352,1480.1 354,1480.2 356,1480.3 358,1480.4 360,1480.5 362,1480.4 364,1480.4 366,1480.4 368,1480.4 370,1480.3 372,1480.3 374,1480.3 376,1480.3 378,1480.2 380,1480.2 382,1480.2 384,1480.2 386,1480.2 388,1480.1 390,1480.1 392,1480.1 394,1480.1 396,1480 398,1480 400,1480 402,1480 404,1479.9 406,1479.9 408,1479.9 410,1479.9 412,1479.9 414,1479.8 416,1479.8 418,1479.8 420,1479.8 422,1479.7 424,1479.7 426,1479.7 428,1479.7 430,1479.6 432,1479.6 434,1479.6 436,1479.6 438,1479.6 440,1479.5 442,1479.5 444,1479.5 446,1479.5 448,1479.4 450,1479.4 452,1479.4 454,1479.4 456,1479.4 458,1479.4 460,1479.4 462,1479.5 464,1479.5 466,1479.5 468,1479.5 470,1479.5 472,1479.5 474,1479.5 476,1479.5 478,1479.5 480,1479.5 482,1479.5 484,1479.5 486,1479.5 488,1479.5 490,1479.6 492,1479.6 494,1479.6 496,1479.6 498,1479.6 500,1479.6 502,1479.6 504,1479.6 506,1479.6 508,1479.6 510,1479.6 512,1479.6 514,1479.6 516,1479.6 518,1479.6 520,1479.6 522,1479.6 524,1479.6 526,1479.6 528,1479.6 530,1479.6 532,1479.6 534,1479.6 536,1479.6 538,1479.6 540,1479.6 542,1479.6 544,1479.6 546,1479.6 548,1479.6 550,1479.5 552,1479.5 554,1479.5 556,1479.5 558,1479.4 560,1479.4 562,1479.3 564,1479.3 566,1479.2 568,1479.1 570,1478.9 572,1478.6 574,1478.1 574.5,1478 575,1477.8 M597,1478.4 597.5,1478.5 598,1478.6 598.5,1478.8 599,1478.9 599.5,1479 600,1479 600.5,1479.1 601,1479.2 601.5,1479.3 602,1479.3 604,1479.5 606,1479.6 608,1479.7 610,1479.8 612,1479.8 614,1479.8 616,1479.8 618,1479.8 620,1479.7 622,1479.6 624,1479.4 626,1479.2 M674,1480.2 676,1480.5 678,1480.8 680,1481 682,1481.2 684,1481.4 686,1481.5 688,1481.6 689.3,1481.7 689.8,1481.7 690,1481.7 690.3,1481.7 690.8,1481.8 691.3,1481.8 691.8,1481.8 692,1481.8 692.3,1481.8 692.8,1481.8 693.3,1481.8 693.8,1481.9 694,1481.9 694.3,1481.9 694.8,1481.9 695.3,1481.9 695.8,1481.8 696,1481.8 696.3,1481.8 696.8,1481.8 697.3,1481.8 697.8,1481.7 698,1481.7 698.3,1481.6 M704.3,1481.5 704.8,1482.1 705.3,1482.2 705.8,1482.2 706,1482.2 706.3,1482.2 706.8,1482.3 707.3,1482.3 707.8,1482.3 708,1482.4 708.3,1482.4 708.8,1482.4 709.3,1482.4 709.8,1482.4 710,1482.4 710.3,1482.5 710.8,1482.5 711.3,1482.5 711.8,1482.5 712,1482.5 712.3,1482.5 712.8,1482.5 713.3,1482.6 713.8,1482.6 714,1482.6 714.3,1482.6 714.8,1482.6 715.3,1482.6 715.8,1482.6 716,1482.6 716.3,1482.6 716.8,1482.6 717.3,1482.7 718,1482.7 720,1482.7 722,1482.8 724,1482.8 726,1482.8 728,1482.9 730,1482.9 732,1482.9 734,1483 736,1483 738,1483 740,1483 742,1483 743.4,1483 743.9,1483 744,1483 744.4,1483 744.9,1483 745.4,1483 745.9,1483 746,1483 746.4,1483 746.9,1483 747.4,1483 747.9,1483 748,1483 748.4,1483 748.9,1482.9 749.4,1482.9 749.9,1482.9 750,1482.9 750.4,1482.8 750.9,1482.8 751.4,1482.7 751.9,1482.6 752,1482.6 752.4,1482.1 M758.4,1481.8 758.9,1482.8 759.4,1482.9 759.9,1482.9 760,1482.9 760.4,1482.9 760.9,1482.9 761.4,1483 761.9,1483 762,1483 762.4,1483 762.9,1483 763.4,1483 763.9,1483 764,1483 764.4,1483 764.9,1483 765.4,1483 765.9,1483 766,1483 766.4,1483 766.9,1483 767.4,1483 767.9,1483 768,1483 768.4,1483 768.9,1482.9 769.4,1482.9 769.9,1482.9 770,1482.9 770.4,1482.9 770.9,1482.9 771.4,1482.9 772,1482.9 774,1482.8 776,1482.7 778,1482.6 780,1482.5 782,1482.3 M892,1484.5 894,1484.7 896,1484.8 898,1484.9 900,1485.1 902,1485.1 904,1485.2 906,1485.2 908,1485.2 910,1485.2 912,1485.2 914,1485.2 916,1485.1 918,1485.1 920,1485 922,1484.9 924,1484.8 M1007,1485.6 1007.5,1485.6 1008,1485.7 1008.5,1485.7 1009,1485.8 1009.5,1485.8 1010,1485.9 1010.5,1485.9 1011,1486 1011.5,1486 1012,1486 1012.5,1486 1013,1486.1 1013.5,1486.1 1014,1486.1 1014.5,1486.1 1015,1486.1 M1023,1486.3 1023.5,1486.7 1024,1486.8 1024.5,1486.8 1025,1486.8 1025.5,1486.9 1026,1486.9 1026.5,1486.9 1027,1486.9 1027.5,1487 1028,1487 1028.5,1487 1029,1487 1029.5,1487 1030,1487 1030.5,1487 1031,1487 M1038.5,1486.3 1039,1487.1 1039.5,1487.4 1040,1487.4 1040.5,1487.4 1041,1487.5 1041.5,1487.5 1042,1487.5 1042.5,1487.5 1043,1487.5 1043.5,1487.6 1044,1487.6 1044.5,1487.6 1045,1487.6 1045.5,1487.6 1046,1487.6 1046.5,1487.6 1047,1487.6 1047.5,1487.7 1048,1487.7 1048.5,1487.7 1049,1487.7 1049.5,1487.7 1050,1487.7 1050.5,1487.7 1050.7,1487.7 1051,1487.7 1051.2,1487.7 1051.7,1487.7 1052,1487.7 1052.2,1487.7 1052.7,1487.8 1053.2,1487.8 1053.7,1487.8 1054,1487.8 1054.2,1487.8 1054.7,1487.8 1055.2,1487.8 1055.7,1487.8 1056,1487.8 1056.2,1487.8 1056.7,1487.8 1057.2,1487.8 1057.7,1487.7 1058,1487.7 1058.2,1487.7 1058.7,1487.6 1059.2,1486.2 M1065.7,1486.2 1066,1486.6 1066.2,1486.9 1066.7,1487.6 1067.2,1487.9 1067.7,1488 1068,1488 1068.2,1488 1068.7,1488 1069.2,1488 1069.7,1488 1070,1488 1070.2,1488 1070.7,1488 1071.2,1488.1 1071.7,1488.1 1072,1488.1 1072.2,1488.1 1072.7,1488.1 1073.2,1488.1 1073.7,1488.1 1074,1488.1 1074.2,1488.1 1074.7,1488.1 1075.2,1488.1 1075.7,1488.1 1076,1488.1 1076.2,1488.1 1076.7,1488.1 1077.2,1488.1 1077.7,1488.1 1078,1488.1 1078.2,1488.1 1078.7,1488.1 1080,1488.2 1082,1488.2 1084,1488.2 1086,1488.2 1088,1488.2 1090,1488.2 1092,1488.2 1094,1488.2 1096,1488.2 1098,1488.1 1100,1488.1 1102,1488 1104,1488 1106,1487.9 1108,1487.8 1110,1487.6 1112,1487.4 1114,1487.1 1116,1486.8 M1149.5,1486.8 1150,1487 1152,1487.3 1154,1487.6 1156,1487.8 1158,1488 1160,1488.1 1162,1488.2 1164,1488.3 1166,1488.3 1168,1488.4 1170,1488.4 1172,1488.4 1174,1488.4 1176,1488.5 1178,1488.5 1180,1488.4 1182,1488.4 1184,1488.4 1186,1488.3 1188,1488.3 1190,1488.2 1192,1488 1194,1487.9 1196,1487.7 1198,1487.4 1200,1487.1 M1240,1487.4 1242,1487.7 1244,1488 1246,1488.2 1248,1488.4 1249.5,1488.5 1250,1488.5 1250.5,1488.5 1251,1488.5 1251.5,1488.6 1252,1488.6 1252.5,1488.6 1253,1488.6 1253.5,1488.6 1254,1488.6 1254.5,1488.6 1255,1488.5 1255.5,1488.5 1256,1488.5 1256.5,1488.4 1257,1488.2 M1266,1488 1266.5,1489 1267,1489 1267.5,1489 1268,1489 1268.5,1489.1 1269,1489.1 1269.5,1489.1 1270,1489.1 1270.5,1489.1 1271,1489.1 1271.5,1489.1 1272,1489.2 1272.5,1489.2 1273,1489.2 1273.5,1489.2 1274,1489.2 1274.5,1489.2 1275,1489.2 1275.5,1489.1 1276,1489.1 1276.5,1489.1 1277,1489.1 1277.5,1489.1 1278,1489.1 1278.5,1489 1279,1489 1279.5,1489 1280,1488.9 1280.5,1488.8 1281,1488.8 1281.5,1488.7 1282,1488.5 1282.5,1488.4 1283,1488.2 1283.5,1488 1284,1487.7 M1294,1488.8 1294.5,1488.9 1295,1489 1295.5,1489.1 1296,1489.2 1296.5,1489.2 1297,1489.3 1297.5,1489.3 1298,1489.3 1298.5,1489.4 1299,1489.4 1299.5,1489.4 1300,1489.4 1300.5,1489.5 1301,1489.5 1301.5,1489.5 1302,1489.5 1302.5,1489.5 1303,1489.6 1303.5,1489.6 1304,1489.6 1304.5,1489.6 1305,1489.6 1306,1489.6 1308,1489.7 1310,1489.7 1312,1489.7 1314,1489.8 1316,1489.8 1318,1489.8 1320,1489.8 1322,1489.8 1324,1489.8 1326,1489.9 1328,1489.9 1330,1489.9 1332,1489.9 1334,1489.9 1336,1489.9 1338,1489.9 1340,1489.9 1342,1489.9 1344,1489.9 1346,1489.9 1348,1489.8 1350,1489.8 1352,1489.8 1354,1489.7 1356,1489.7 1358,1489.6 1360,1489.5 1362,1489.4 1364,1489.2 1366,1489 1368,1488.6 1370,1488.2 M1426.3,1488.5 1426.8,1488.7 1427.3,1488.8 1427.8,1488.9 1428,1488.9 1428.3,1489 1428.8,1489.1 1429.3,1489.2 1430,1489.3 1432,1489.6 1434,1489.8 1436,1490 1438,1490.1 1440,1490.2 1441,1490.3 1441.5,1490.3 1442,1490.3 1442.5,1490.3 1443,1490.3 1443.5,1490.3 1444,1490.3 1444.5,1490.3 1445,1490.3 1445.5,1490.3 1446,1490.3 1446.5,1490.3 1447,1490.3 1447.5,1490.3 1448,1489.8 M1457.5,1489.1 1458,1490 1458.5,1490.7 1459,1490.7 1459.5,1490.8 1460,1490.8 1460.5,1490.8 1461,1490.8 1461.5,1490.8 1462,1490.8 1462.5,1490.8 1463,1490.9 1463.5,1490.9 1464,1490.9 1464.5,1490.9 1465,1490.9 1465.5,1490.9 1466,1490.9 1466.5,1490.9 1467,1490.9 1467.5,1491 1468,1491 1468.5,1491 1469,1491 1470,1491 1472,1491 1474,1491.1 1476,1491.1 1478,1491.1 1480,1491.1 1482,1491.2 1484,1491.2 1486,1491.2 1488,1491.2 1490,1491.2 1492,1491.3 1494,1491.3 1496,1491.3 1498,1491.3 1500,1491.3 1502,1491.3 1504,1491.3 1506,1491.3 1508,1491.3 1509.5,1491.3 1510,1491.3 1510.5,1491.3 1511,1491.2 1511.5,1491.2 1512,1491.2 1512.5,1491.2 1513,1491.2 1513.5,1491.2 1514,1491.1 1514.5,1491.1 1515,1491.1 1515.5,1491 1516,1491 1516.5,1490.1 M1526,1489.3 1526.5,1490.2 1527,1491 1527.5,1491.2 1528,1491.2 1528.5,1491.2 1529,1491.2 1529.5,1491.2 1530,1491.2 1530.5,1491.2 1531,1491.2 1531.5,1491.3 1532,1491.3 1532.5,1491.3 1533,1491.3 1533.5,1491.3 1534,1491.3 1534.5,1491.3 1535,1491.3 1535.5,1491.3 1536,1491.2 1536.5,1491.2 1537,1491.2 1537.5,1491.2 1538,1491.2 1540,1491.2 1542,1491.2 1544,1491.2 1546,1491.1 1548,1491 1550,1490.9 1552,1490.8 1554,1490.6 1555,1490.5 1555.5,1490.4 1556,1490.3 1556.5,1490.1 1557,1490 1557.5,1489.9 1558,1489.7 1558.5,1489.5 1559,1489.3 M1573.5,1490.1 1574,1490.2 1574.5,1490.3 1575,1490.4 1575.5,1490.5 1576,1490.6 1576.5,1490.6 1577,1490.7 1577.5,1490.7 1578,1490.8 1578.5,1490.8 1579,1490.9 1579.5,1490.9 1580,1490.9 1580.5,1491 1581,1491 1581.5,1491 1582,1491 1582.5,1491.1 1583,1491.1 1584,1491.1 1586,1491.2 1588,1491.2 1590,1491.2 1592,1491.3 1594,1491.3 1596,1491.3 1598,1491.3 1600,1491.3 1602,1491.3 1604,1491.3 1606,1491.3 1608,1491.3 1610,1491.3 1612,1491.3 1614,1491.3 1616,1491.3 1618,1491.3 1620,1491.3 1622,1491.2 1623.5,1491.1 1624,1491.1 1624.5,1491.1 1625,1491.1 1625.5,1491 1626,1491 1626.5,1490.9 1627,1490.9 1627.5,1490.8 1628,1490.7 1628.5,1490.6 1629,1490.4 1629.5,1490.3 1630,1490.1 M1641,1489.6 1641.5,1491 1642,1491.1 1642.5,1491.1 1643,1491.1 1643.5,1491.2 1644,1491.2 1644.5,1491.2 1645,1491.2 1645.5,1491.2 1646,1491.2 1646.5,1491.3 1647,1491.3 1647.5,1491.3 1648,1491.3 1648.5,1491.3 1649,1491.3 1649.5,1491.3 1650,1491.3 1650.5,1491.3 1651,1491.3 1651.5,1491.3 1652,1491.3 1654,1491.4 1656,1491.4 1658,1491.4 1660,1491.4 1662,1491.4 1664,1491.4 1666,1491.4 1668,1491.4 1670,1491.4 1672,1491.4 1674,1491.4 1676,1491.4 1678,1491.4 1680,1491.4 1682,1491.4 1684,1491.3 1686,1491.3 1688,1491.2 1688.5,1491.2 1689,1491.2 1689.5,1491.2 1690,1491.1 1690.5,1491.1 1691,1491.1 1691.5,1491 1692,1491 1692.5,1490.9 1693,1490.8 1693.5,1490.7 1694,1490.6 1694.5,1490.5 M1705.5,1489.7 1706,1491.1 1706.5,1491.2 1707,1491.2 1707.5,1491.2 1708,1491.2 1708.5,1491.3 1709,1491.3 1709.5,1491.3 1710,1491.3 1710.5,1491.3 1711,1491.3 1711.5,1491.3 1712,1491.3 1712.5,1491.3 1713,1491.3 1713.5,1491.3 1714,1491.3 1714.5,1491.3 1715,1491.3 1715.5,1491.3 1716,1491.3 1718,1491.3 1720,1491.3 1722,1491.3 1724,1491.3 1724.6,1491.2 1725.1,1491.2 1725.6,1491.2 1726,1491.2 1726.1,1491.2 1726.6,1491.2 1727.1,1491.1 1727.6,1491.1 1728,1491.1 1728.1,1491.1 1728.6,1491 1729.1,1490.9 1729.6,1490.9 1730,1490.8 1730.1,1490.8 1730.6,1490.7 1731.1,1490.2 M1742,1489.2 1742.1,1489.6 1742.6,1491.1 1743.1,1491.2 1743.6,1491.2 1744,1491.2 1744.1,1491.2 1744.6,1491.3 1745.1,1491.3 1745.6,1491.3 1746,1491.3 1746.1,1491.3 1746.6,1491.3 1747.1,1491.3 1747.6,1491.3 1748,1491.3 1748.1,1491.3 1748.6,1491.3 1749.1,1491.3 1749.6,1491.3 1750,1491.4 1750.1,1491.4 1750.6,1491.4 1751.1,1491.4 1751.6,1491.4 1752,1491.4 1752.1,1491.4 1752.6,1491.4 1754,1491.4 1756,1491.4 1758,1491.4 1760,1491.4 1762,1491.4 1764,1491.3 1766,1491.3 1768,1491.3 1770,1491.2 1772,1491.1 1772.5,1491.1 1773,1491.1 1773.5,1491 1774,1491 1774.5,1490.9 1775,1490.8 1775.5,1490.8 1776,1490.7 1776.5,1490.5 1777,1490.4 1777.5,1490.3 1778,1490.1 M1790,1489.4 1790.5,1491.1 1791,1491.1 1791.5,1491.1 1792,1491.2 1792.5,1491.2 1793,1491.2 1793.5,1491.2 1794,1491.2 1794.5,1491.3 1795,1491.3 1795.5,1491.3 1796,1491.3 1796.5,1491.3 1797,1491.3 1797.5,1491.3 1798,1491.3 1798.5,1491.3 1799,1491.4 1799.5,1491.4 1800,1491.4 1802,1491.4 1802.4,1491.4" fill="none" stroke="#6590bb" stroke-width="5.4" stroke-linejoin="round" stroke-linecap="round"/><use href="#cv" fill="none" stroke="#5a89b9" stroke-width="3.8" stroke-linejoin="round" stroke-linecap="round"/></g>
<g id="frame"><rect x="189.7" y="49.0" width="1789.8" height="1502.0" fill="none" stroke="#0c0c0c" stroke-width="7.6"/></g>
<g id="sem"><defs><clipPath id="semclip"><rect x="1285.2" y="353.8" width="674.8" height="562.9"/></clipPath><filter id="semf" filterUnits="userSpaceOnUse" x="1255.2" y="323.8" width="735" height="623" color-interpolation-filters="sRGB"><feTurbulence type="fractalNoise" baseFrequency="0.06" numOctaves="2" seed="7" result="warp"/><feDisplacementMap in="SourceGraphic" in2="warp" scale="13" xChannelSelector="R" yChannelSelector="G" result="disp"/><feGaussianBlur in="disp" stdDeviation="1.7" result="img"/><feTurbulence type="fractalNoise" baseFrequency="0.13" numOctaves="3" seed="3" result="n1"/><feColorMatrix in="n1" type="matrix" values="1 0 0 0 0  1 0 0 0 0  1 0 0 0 0  0 0 0 0 1" result="ng"/><feComposite in="img" in2="ng" operator="arithmetic" k1="0.5" k2="0.80" k3="0.16" k4="-0.105" result="mix"/><feGaussianBlur in="mix" stdDeviation="0.9"/></filter></defs><g clip-path="url(#semclip)"><g filter="url(#semf)"><rect x="1245.2" y="313.8" width="755" height="643" fill="#1c1c1c"/><polygon points="1705,805 1684,787 1713,760 1727,764 1736,783 1708,805" fill="#545454" stroke="#646464" stroke-width="1.2" stroke-linejoin="round"/><polygon points="1307,611 1287,596 1261,619 1296,633 1300,631" fill="#ababab" stroke="#bababa" stroke-width="1.2" stroke-linejoin="round"/><polygon points="1726,897 1738,902 1740,901 1745,890 1739,860 1730,855 1715,875" fill="#bdbdbd" stroke="#cdcdcd" stroke-width="1.2" stroke-linejoin="round"/><polygon points="1543,876 1541,879 1510,860 1511,842 1515,836 1534,833 1544,844" fill="#aaaaaa" stroke="#b9b9b9" stroke-width="1.2" stroke-linejoin="round"/><polygon points="1658,700 1674,683 1655,663 1636,670 1634,682 1644,696" fill="#8e8e8e" stroke="#9e9e9e" stroke-width="1.2" stroke-linejoin="round"/><polygon points="1777,564 1797,573 1799,594 1789,601 1776,599 1768,573" fill="#b6b6b6" stroke="#c6c6c6" stroke-width="1.2" stroke-linejoin="round"/><polygon points="1900,818 1906,824 1927,818 1941,798 1925,772 1908,779" fill="#777777" stroke="#878787" stroke-width="1.2" stroke-linejoin="round"/><polygon points="1825,385 1824,370 1808,358 1795,359 1794,359 1788,389 1797,395" fill="#b2b2b2" stroke="#c1c1c1" stroke-width="1.2" stroke-linejoin="round"/><polygon points="1696,433 1687,402 1693,392 1712,384 1721,387 1724,423 1697,435" fill="#818181" stroke="#919191" stroke-width="1.2" stroke-linejoin="round"/><polygon points="2001,332 1954,351 1934,333 1935,308 1948,302 1982,305 1996,313" fill="#535353" stroke="#636363" stroke-width="1.2" stroke-linejoin="round"/><polygon points="1942,420 1931,443 1935,448 1956,451 1968,439 1962,418" fill="#8f8f8f" stroke="#9f9f9f" stroke-width="1.2" stroke-linejoin="round"/><polygon points="1457,959 1457,895 1498,907 1497,957 1465,962" fill="#878787" stroke="#979797" stroke-width="1.2" stroke-linejoin="round"/><polygon points="1898,734 1902,733 1911,713 1894,687 1869,708 1868,714 1872,724" fill="#959595" stroke="#a5a5a5" stroke-width="1.2" stroke-linejoin="round"/><polygon points="1959,758 1926,770 1920,744 1941,733 1958,747" fill="#7d7d7d" stroke="#8c8c8c" stroke-width="1.2" stroke-linejoin="round"/><polygon points="1461,545 1474,533 1483,535 1493,552 1481,572 1462,557" fill="#a1a1a1" stroke="#b0b0b0" stroke-width="1.2" stroke-linejoin="round"/><polygon points="1916,483 1931,476 1964,492 1940,520 1929,522 1915,510" fill="#9c9c9c" stroke="#acacac" stroke-width="1.2" stroke-linejoin="round"/><polygon points="1476,717 1460,690 1493,682 1500,689 1488,719" fill="#b0b0b0" stroke="#c0c0c0" stroke-width="1.2" stroke-linejoin="round"/><polygon points="1671,762 1681,787 1683,787 1713,759 1696,734 1696,734" fill="#444444" stroke="#535353" stroke-width="1.2" stroke-linejoin="round"/><polygon points="1473,812 1496,814 1506,833 1502,838 1472,837 1466,831 1466,827" fill="#878787" stroke="#969696" stroke-width="1.2" stroke-linejoin="round"/><polygon points="1744,455 1742,432 1759,423 1792,445 1792,449 1791,451 1762,466" fill="#8c8c8c" stroke="#9c9c9c" stroke-width="1.2" stroke-linejoin="round"/><polygon points="1785,391 1793,357 1748,350 1740,378 1766,395" fill="#8c8c8c" stroke="#9c9c9c" stroke-width="1.2" stroke-linejoin="round"/><polygon points="1926,537 1930,525 1940,523 1959,540 1957,561 1936,567 1933,565" fill="#9a9a9a" stroke="#a9a9a9" stroke-width="1.2" stroke-linejoin="round"/><polygon points="1282,796 1247,788 1243,813 1246,823 1277,826 1290,817 1291,813" fill="#373737" stroke="#474747" stroke-width="1.2" stroke-linejoin="round"/><polygon points="1318,437 1308,414 1281,431 1291,469 1295,469 1310,460" fill="#767676" stroke="#868686" stroke-width="1.2" stroke-linejoin="round"/><polygon points="1361,498 1346,502 1338,497 1340,475 1347,471 1361,476 1364,494" fill="#7b7b7b" stroke="#8b8b8b" stroke-width="1.2" stroke-linejoin="round"/><polygon points="1461,629 1457,600 1436,593 1429,625 1439,636 1455,636" fill="#6f6f6f" stroke="#7e7e7e" stroke-width="1.2" stroke-linejoin="round"/><polygon points="1800,839 1822,809 1789,793 1784,802 1790,838" fill="#6e6e6e" stroke="#7d7d7d" stroke-width="1.2" stroke-linejoin="round"/><polygon points="1307,891 1273,885 1273,885 1284,920 1306,916 1310,910" fill="#969696" stroke="#a6a6a6" stroke-width="1.2" stroke-linejoin="round"/><polygon points="1436,639 1417,667 1417,668 1402,663 1395,649 1412,628 1426,629" fill="#b8b8b8" stroke="#c8c8c8" stroke-width="1.2" stroke-linejoin="round"/><polygon points="1342,729 1315,740 1313,757 1343,760 1347,732" fill="#707070" stroke="#808080" stroke-width="1.2" stroke-linejoin="round"/><polygon points="1375,388 1380,363 1387,360 1414,375 1408,391 1385,397" fill="#7d7d7d" stroke="#8d8d8d" stroke-width="1.2" stroke-linejoin="round"/><polygon points="1797,531 1778,542 1762,524 1769,501 1801,500 1803,505" fill="#d4d4d4" stroke="#e4e4e4" stroke-width="1.2" stroke-linejoin="round"/><polygon points="1653,598 1670,576 1659,560 1632,560 1636,594 1648,599" fill="#c2c2c2" stroke="#d2d2d2" stroke-width="1.2" stroke-linejoin="round"/><polygon points="1566,589 1577,572 1600,568 1609,603 1599,617 1586,618" fill="#7e7e7e" stroke="#8e8e8e" stroke-width="1.2" stroke-linejoin="round"/><polygon points="1504,436 1514,439 1518,465 1489,475 1486,470 1494,440" fill="#a4a4a4" stroke="#b4b4b4" stroke-width="1.2" stroke-linejoin="round"/><polygon points="1358,581 1329,580 1322,605 1345,617 1353,613 1360,583" fill="#cfcfcf" stroke="#dedede" stroke-width="1.2" stroke-linejoin="round"/><polygon points="1314,563 1313,563 1288,581 1289,592 1309,608 1319,603 1325,579" fill="#989898" stroke="#a7a7a7" stroke-width="1.2" stroke-linejoin="round"/><polygon points="1609,917 1588,911 1558,963 1586,972 1620,964 1614,923" fill="#6c6c6c" stroke="#7c7c7c" stroke-width="1.2" stroke-linejoin="round"/><polygon points="2002,593 1962,624 1956,623 1946,601 1983,585 2002,589" fill="#868686" stroke="#969696" stroke-width="1.2" stroke-linejoin="round"/><polygon points="1360,843 1332,846 1331,843 1340,814 1354,816 1366,836" fill="#868686" stroke="#959595" stroke-width="1.2" stroke-linejoin="round"/><polygon points="1884,468 1865,435 1871,427 1902,428 1909,440 1893,466" fill="#777777" stroke="#878787" stroke-width="1.2" stroke-linejoin="round"/><polygon points="1552,796 1533,829 1515,832 1503,809 1517,785 1536,786" fill="#a2a2a2" stroke="#b1b1b1" stroke-width="1.2" stroke-linejoin="round"/><polygon points="1788,739 1785,718 1748,719 1741,725 1744,743 1772,753" fill="#949494" stroke="#a4a4a4" stroke-width="1.2" stroke-linejoin="round"/><polygon points="1520,734 1524,733 1541,740 1536,782 1517,781 1507,770" fill="#949494" stroke="#a3a3a3" stroke-width="1.2" stroke-linejoin="round"/><polygon points="1878,508 1877,477 1850,477 1848,503" fill="#8b8b8b" stroke="#9b9b9b" stroke-width="1.2" stroke-linejoin="round"/><polygon points="1668,354 1654,311 1668,305 1701,307 1709,311 1697,345" fill="#848484" stroke="#949494" stroke-width="1.2" stroke-linejoin="round"/><polygon points="1801,532 1824,552 1832,552 1839,537 1833,517 1807,508" fill="#a7a7a7" stroke="#b7b7b7" stroke-width="1.2" stroke-linejoin="round"/><polygon points="1608,843 1616,832 1598,812 1581,814 1583,837" fill="#868686" stroke="#959595" stroke-width="1.2" stroke-linejoin="round"/><polygon points="1942,898 2005,893 2006,894 2006,895 1954,934" fill="#8d8d8d" stroke="#9c9c9c" stroke-width="1.2" stroke-linejoin="round"/><polygon points="1357,901 1385,916 1395,961 1385,966 1350,965 1346,915" fill="#3a3a3a" stroke="#4a4a4a" stroke-width="1.2" stroke-linejoin="round"/><polygon points="1864,876 1854,882 1848,911 1859,915 1891,900 1893,898" fill="#9e9e9e" stroke="#aeaeae" stroke-width="1.2" stroke-linejoin="round"/><polygon points="1483,391 1475,361 1463,357 1445,370 1458,406 1460,407" fill="#a3a3a3" stroke="#b2b2b2" stroke-width="1.2" stroke-linejoin="round"/><polygon points="1625,876 1610,915 1615,922 1651,909 1653,877" fill="#adadad" stroke="#bcbcbc" stroke-width="1.2" stroke-linejoin="round"/><polygon points="1665,720 1660,704 1680,684 1686,684 1709,710 1710,716 1696,734 1696,734" fill="#5b5b5b" stroke="#6b6b6b" stroke-width="1.2" stroke-linejoin="round"/><polygon points="1399,755 1419,725 1428,726 1443,740 1445,752 1430,766 1401,758" fill="#949494" stroke="#a3a3a3" stroke-width="1.2" stroke-linejoin="round"/><polygon points="1417,860 1431,859 1455,881 1453,891 1423,897 1411,887 1409,880" fill="#7e7e7e" stroke="#8e8e8e" stroke-width="1.2" stroke-linejoin="round"/><polygon points="1523,379 1541,372 1548,355 1530,336 1514,362" fill="#909090" stroke="#a0a0a0" stroke-width="1.2" stroke-linejoin="round"/><polygon points="1839,565 1856,571 1868,597 1841,609 1831,597" fill="#838383" stroke="#939393" stroke-width="1.2" stroke-linejoin="round"/><polygon points="1744,567 1731,533 1729,532 1706,551 1705,561 1726,580" fill="#5a5a5a" stroke="#6a6a6a" stroke-width="1.2" stroke-linejoin="round"/><polygon points="1381,543 1397,557 1391,584 1363,580 1361,578 1363,551" fill="#5b5b5b" stroke="#6a6a6a" stroke-width="1.2" stroke-linejoin="round"/><polygon points="1525,551 1519,512 1536,502 1561,539 1561,541 1531,556" fill="#c0c0c0" stroke="#d0d0d0" stroke-width="1.2" stroke-linejoin="round"/><polygon points="1537,612 1522,611 1516,587 1532,570 1556,589" fill="#767676" stroke="#858585" stroke-width="1.2" stroke-linejoin="round"/><polygon points="1694,464 1713,505 1673,517 1673,517 1671,475" fill="#9b9b9b" stroke="#aaaaaa" stroke-width="1.2" stroke-linejoin="round"/><polygon points="1801,839 1818,855 1844,841 1829,808 1823,810" fill="#3f3f3f" stroke="#4f4f4f" stroke-width="1.2" stroke-linejoin="round"/><polygon points="1629,682 1594,695 1578,679 1578,674 1618,650 1632,667" fill="#bbbbbb" stroke="#cbcbcb" stroke-width="1.2" stroke-linejoin="round"/><polygon points="1617,862 1626,872 1649,873 1650,872 1652,860 1638,838 1629,835 1623,838 1615,849" fill="#cdcdcd" stroke="#dcdcdc" stroke-width="1.2" stroke-linejoin="round"/><polygon points="1309,408 1308,413 1281,431 1237,425 1234,414 1238,391 1301,399 1309,408" fill="#3e3e3e" stroke="#4d4d4d" stroke-width="1.2" stroke-linejoin="round"/><polygon points="1669,520 1669,526 1658,553 1634,553 1632,552 1633,523 1644,517 1669,520" fill="#b8b8b8" stroke="#c8c8c8" stroke-width="1.2" stroke-linejoin="round"/><polygon points="1878,814 1856,843 1865,860 1906,845 1906,824 1900,819" fill="#6a6a6a" stroke="#7a7a7a" stroke-width="1.2" stroke-linejoin="round"/><polygon points="1889,628 1884,601 1896,592 1924,603 1917,635 1893,632" fill="#b3b3b3" stroke="#c3c3c3" stroke-width="1.2" stroke-linejoin="round"/><polygon points="1491,351 1501,303 1466,302 1459,306 1465,352 1476,356" fill="#4e4e4e" stroke="#5e5e5e" stroke-width="1.2" stroke-linejoin="round"/><polygon points="1842,397 1863,395 1867,368 1852,354 1828,370 1829,386" fill="#505050" stroke="#606060" stroke-width="1.2" stroke-linejoin="round"/><polygon points="1326,850 1325,846 1297,820 1281,831 1291,855 1323,857" fill="#8f8f8f" stroke="#9f9f9f" stroke-width="1.2" stroke-linejoin="round"/><polygon points="1705,806 1683,838 1683,838 1691,845 1726,844 1728,832 1708,806" fill="#9c9c9c" stroke="#acacac" stroke-width="1.2" stroke-linejoin="round"/><polygon points="1726,581 1726,584 1696,603 1678,576 1703,562" fill="#a5a5a5" stroke="#b5b5b5" stroke-width="1.2" stroke-linejoin="round"/><polygon points="1357,551 1355,576 1329,575 1319,560 1325,550 1341,543" fill="#343434" stroke="#444444" stroke-width="1.2" stroke-linejoin="round"/><polygon points="1800,840 1818,856 1818,874 1817,876 1786,882 1779,876 1774,852 1777,845 1790,839" fill="#818181" stroke="#919191" stroke-width="1.2" stroke-linejoin="round"/><polygon points="1413,843 1425,821 1455,829 1456,834 1432,854 1419,855" fill="#bfbfbf" stroke="#cecece" stroke-width="1.2" stroke-linejoin="round"/><polygon points="1651,432 1654,406 1649,398 1620,404 1618,434 1622,436 1651,432" fill="#b5b5b5" stroke="#c5c5c5" stroke-width="1.2" stroke-linejoin="round"/><polygon points="1286,790 1241,781 1240,778 1278,755 1307,762 1307,772" fill="#696969" stroke="#797979" stroke-width="1.2" stroke-linejoin="round"/><polygon points="1523,382 1538,408 1557,406 1565,387 1542,374 1523,382" fill="#6e6e6e" stroke="#7e7e7e" stroke-width="1.2" stroke-linejoin="round"/><polygon points="1378,434 1381,457 1404,473 1421,442 1418,433 1382,431" fill="#3f3f3f" stroke="#4f4f4f" stroke-width="1.2" stroke-linejoin="round"/><polygon points="1357,431 1345,442 1320,436 1311,414 1312,410 1346,413" fill="#535353" stroke="#636363" stroke-width="1.2" stroke-linejoin="round"/><polygon points="1860,764 1871,772 1868,802 1833,803 1832,778" fill="#8c8c8c" stroke="#9b9b9b" stroke-width="1.2" stroke-linejoin="round"/><polygon points="1492,727 1488,722 1475,720 1448,739 1450,753 1475,766 1479,764" fill="#7b7b7b" stroke="#8a8a8a" stroke-width="1.2" stroke-linejoin="round"/><polygon points="1813,764 1789,791 1770,772 1772,753 1789,739 1811,752" fill="#a0a0a0" stroke="#afafaf" stroke-width="1.2" stroke-linejoin="round"/><polygon points="1830,423 1843,441 1836,459 1792,449 1792,445 1804,422" fill="#3a3a3a" stroke="#494949" stroke-width="1.2" stroke-linejoin="round"/><polygon points="1654,878 1655,877 1683,884 1690,907 1689,909 1667,921 1652,908" fill="#a8a8a8" stroke="#b7b7b7" stroke-width="1.2" stroke-linejoin="round"/><polygon points="1934,387 1909,370 1907,361 1929,336 1951,356 1953,380" fill="#898989" stroke="#999999" stroke-width="1.2" stroke-linejoin="round"/><polygon points="1707,656 1708,656 1753,645 1752,621 1739,614 1707,625 1703,647" fill="#8d8d8d" stroke="#9c9c9c" stroke-width="1.2" stroke-linejoin="round"/><polygon points="1728,462 1701,457 1700,438 1725,427 1739,434 1740,454" fill="#a8a8a8" stroke="#b7b7b7" stroke-width="1.2" stroke-linejoin="round"/><polygon points="1341,509 1339,535 1323,542 1309,513 1315,506 1332,504" fill="#3e3e3e" stroke="#4e4e4e" stroke-width="1.2" stroke-linejoin="round"/><polygon points="1345,917 1348,963 1344,965 1323,965 1310,920 1314,914" fill="#757575" stroke="#858585" stroke-width="1.2" stroke-linejoin="round"/><polygon points="1504,432 1501,395 1485,393 1461,410 1470,425 1493,436" fill="#6e6e6e" stroke="#7e7e7e" stroke-width="1.2" stroke-linejoin="round"/><polygon points="1606,774 1625,743 1621,737 1593,740 1583,768" fill="#6b6b6b" stroke="#7b7b7b" stroke-width="1.2" stroke-linejoin="round"/><polygon points="1656,600 1674,614 1694,606 1695,602 1678,578 1673,577" fill="#b8b8b8" stroke="#c8c8c8" stroke-width="1.2" stroke-linejoin="round"/><polygon points="1358,389 1339,373 1339,368 1355,355 1375,363 1370,386" fill="#b0b0b0" stroke="#c0c0c0" stroke-width="1.2" stroke-linejoin="round"/><polygon points="1382,643 1362,650 1343,637 1346,619 1353,614 1375,621" fill="#b4b4b4" stroke="#c4c4c4" stroke-width="1.2" stroke-linejoin="round"/><polygon points="1928,708 1941,719 1966,705 1959,692 1935,688" fill="#757575" stroke="#848484" stroke-width="1.2" stroke-linejoin="round"/><polygon points="1305,677 1283,663 1245,677 1243,693 1244,695 1258,701 1306,693" fill="#8c8c8c" stroke="#9c9c9c" stroke-width="1.2" stroke-linejoin="round"/><polygon points="1406,514 1427,523 1442,501 1437,487 1405,481 1401,489" fill="#989898" stroke="#a8a8a8" stroke-width="1.2" stroke-linejoin="round"/><polygon points="1468,632 1490,628 1498,632 1501,641 1489,656 1469,650 1463,638" fill="#adadad" stroke="#bdbdbd" stroke-width="1.2" stroke-linejoin="round"/><polygon points="1342,463 1344,446 1321,440 1314,460 1335,468" fill="#727272" stroke="#828282" stroke-width="1.2" stroke-linejoin="round"/><polygon points="1663,799 1663,822 1640,832 1631,828 1638,796" fill="#d2d2d2" stroke="#e2e2e2" stroke-width="1.2" stroke-linejoin="round"/><polygon points="1394,753 1415,722 1409,715 1381,710 1371,728 1390,752" fill="#9f9f9f" stroke="#afafaf" stroke-width="1.2" stroke-linejoin="round"/><polygon points="1771,919 1742,908 1740,909 1728,957 1745,964 1757,963" fill="#8e8e8e" stroke="#9e9e9e" stroke-width="1.2" stroke-linejoin="round"/><polygon points="1794,453 1795,451 1833,460 1835,467 1804,493" fill="#595959" stroke="#696969" stroke-width="1.2" stroke-linejoin="round"/><polygon points="1891,553 1888,551 1880,532 1885,516 1913,513 1926,524 1922,535" fill="#454545" stroke="#555555" stroke-width="1.2" stroke-linejoin="round"/><polygon points="1888,628 1884,601 1871,599 1841,612 1841,613 1853,638 1856,639" fill="#8b8b8b" stroke="#9a9a9a" stroke-width="1.2" stroke-linejoin="round"/><polygon points="1273,751 1276,729 1256,709 1243,704 1233,735 1239,767 1242,771" fill="#646464" stroke="#747474" stroke-width="1.2" stroke-linejoin="round"/><polygon points="1794,702 1820,699 1830,679 1824,665 1803,654 1797,658 1790,693" fill="#999999" stroke="#a9a9a9" stroke-width="1.2" stroke-linejoin="round"/><polygon points="1696,910 1695,912 1721,953 1723,953 1734,908 1723,903" fill="#535353" stroke="#636363" stroke-width="1.2" stroke-linejoin="round"/><polygon points="1896,900 1894,902 1883,963 1905,967 1924,962 1907,899 1905,898" fill="#696969" stroke="#797979" stroke-width="1.2" stroke-linejoin="round"/><polygon points="1572,424 1555,444 1560,460 1575,466 1582,464 1596,436 1584,424" fill="#838383" stroke="#939393" stroke-width="1.2" stroke-linejoin="round"/><polygon points="1863,433 1845,438 1833,422 1843,400 1862,398 1863,399 1868,425" fill="#868686" stroke="#969696" stroke-width="1.2" stroke-linejoin="round"/><polygon points="1904,371 1902,364 1892,362 1871,370 1867,392 1868,393 1894,393" fill="#3d3d3d" stroke="#4c4c4c" stroke-width="1.2" stroke-linejoin="round"/><polygon points="1386,833 1397,800 1418,805 1422,818 1409,841" fill="#bcbcbc" stroke="#cccccc" stroke-width="1.2" stroke-linejoin="round"/><polygon points="1617,366 1589,362 1580,382 1593,399 1615,399" fill="#8e8e8e" stroke="#9d9d9d" stroke-width="1.2" stroke-linejoin="round"/><polygon points="1713,382 1723,384 1740,377 1747,350 1735,311 1715,310 1700,350" fill="#8c8c8c" stroke="#9c9c9c" stroke-width="1.2" stroke-linejoin="round"/><polygon points="1726,424 1723,386 1740,379 1765,396 1758,422 1742,432" fill="#737373" stroke="#828282" stroke-width="1.2" stroke-linejoin="round"/><polygon points="1645,750 1636,792 1637,793 1665,797 1681,787 1671,762" fill="#8e8e8e" stroke="#9d9d9d" stroke-width="1.2" stroke-linejoin="round"/><polygon points="1359,852 1331,854 1329,860 1329,871 1353,886 1364,873" fill="#818181" stroke="#909090" stroke-width="1.2" stroke-linejoin="round"/><polygon points="1542,738 1525,731 1530,693 1554,694 1557,730 1552,735" fill="#646464" stroke="#737373" stroke-width="1.2" stroke-linejoin="round"/><polygon points="1747,718 1786,718 1791,705 1787,696 1752,682 1747,686" fill="#7e7e7e" stroke="#8d8d8d" stroke-width="1.2" stroke-linejoin="round"/><polygon points="1680,683 1686,683 1707,656 1702,647 1671,638 1663,643 1657,659" fill="#6d6d6d" stroke="#7c7c7c" stroke-width="1.2" stroke-linejoin="round"/><polygon points="1360,772 1348,769 1330,798 1330,799 1338,807 1356,810 1367,795" fill="#6d6d6d" stroke="#7d7d7d" stroke-width="1.2" stroke-linejoin="round"/><polygon points="1604,500 1575,501 1576,530 1592,533 1611,514" fill="#8c8c8c" stroke="#9c9c9c" stroke-width="1.2" stroke-linejoin="round"/><polygon points="1469,717 1456,695 1453,694 1436,719 1448,731" fill="#8c8c8c" stroke="#9c9c9c" stroke-width="1.2" stroke-linejoin="round"/><polygon points="1933,404 1943,418 1961,416 1976,396 1953,383 1936,389" fill="#9e9e9e" stroke="#aeaeae" stroke-width="1.2" stroke-linejoin="round"/><polygon points="1884,670 1893,680 1892,686 1870,705 1852,680 1870,668" fill="#b1b1b1" stroke="#c1c1c1" stroke-width="1.2" stroke-linejoin="round"/><polygon points="1487,485 1467,508 1474,528 1485,531 1513,511" fill="#c0c0c0" stroke="#d0d0d0" stroke-width="1.2" stroke-linejoin="round"/><polygon points="1572,846 1547,845 1546,876 1571,872" fill="#8c8c8c" stroke="#9c9c9c" stroke-width="1.2" stroke-linejoin="round"/><polygon points="1335,373 1309,408 1301,399 1292,360 1293,360 1314,353 1335,367" fill="#7e7e7e" stroke="#8d8d8d" stroke-width="1.2" stroke-linejoin="round"/><polygon points="1539,612 1557,590 1565,590 1584,617 1584,617 1550,627" fill="#a7a7a7" stroke="#b6b6b6" stroke-width="1.2" stroke-linejoin="round"/><polygon points="1354,681 1357,681 1362,650 1343,638 1326,651 1326,660" fill="#909090" stroke="#a0a0a0" stroke-width="1.2" stroke-linejoin="round"/><polygon points="1555,790 1541,780 1545,746 1553,744 1572,770 1559,789" fill="#626262" stroke="#727272" stroke-width="1.2" stroke-linejoin="round"/><polygon points="1375,437 1377,456 1364,469 1348,462 1349,445 1360,436" fill="#585858" stroke="#686868" stroke-width="1.2" stroke-linejoin="round"/><polygon points="1493,727 1481,765 1506,770 1519,734" fill="#8c8c8c" stroke="#9c9c9c" stroke-width="1.2" stroke-linejoin="round"/><polygon points="1894,634 1916,637 1929,649 1930,653 1922,668 1896,678 1887,667" fill="#9a9a9a" stroke="#a9a9a9" stroke-width="1.2" stroke-linejoin="round"/><polygon points="1957,451 1973,488 2004,489 2013,454 2012,450 1968,440" fill="#393939" stroke="#494949" stroke-width="1.2" stroke-linejoin="round"/><polygon points="1649,437 1624,440 1626,471 1636,474 1656,468" fill="#777777" stroke="#868686" stroke-width="1.2" stroke-linejoin="round"/><polygon points="1378,352 1384,349 1395,314 1383,308 1357,311 1361,345" fill="#909090" stroke="#a0a0a0" stroke-width="1.2" stroke-linejoin="round"/><polygon points="1529,690 1527,688 1531,654 1543,649 1572,664 1577,674 1577,679 1555,692" fill="#bbbbbb" stroke="#cbcbcb" stroke-width="1.2" stroke-linejoin="round"/><polygon points="1907,894 1909,895 1937,894 1947,863 1945,860 1911,853" fill="#a2a2a2" stroke="#b1b1b1" stroke-width="1.2" stroke-linejoin="round"/><polygon points="1935,648 1954,629 1960,630 1979,656 1965,662 1935,652" fill="#9e9e9e" stroke="#adadad" stroke-width="1.2" stroke-linejoin="round"/><polygon points="1633,666 1619,649 1618,637 1643,627 1662,643 1656,658" fill="#959595" stroke="#a4a4a4" stroke-width="1.2" stroke-linejoin="round"/><polygon points="1856,751 1872,724 1867,714 1834,718 1831,738" fill="#6a6a6a" stroke="#7a7a7a" stroke-width="1.2" stroke-linejoin="round"/><polygon points="1616,438 1599,439 1588,462 1610,475 1621,469 1619,440" fill="#b8b8b8" stroke="#c7c7c7" stroke-width="1.2" stroke-linejoin="round"/><polygon points="1783,801 1754,809 1741,785 1770,773 1788,791 1788,793" fill="#8a8a8a" stroke="#9a9a9a" stroke-width="1.2" stroke-linejoin="round"/><polygon points="1966,493 1944,520 1963,536 2007,527 2004,495 2002,492 1973,491" fill="#858585" stroke="#959595" stroke-width="1.2" stroke-linejoin="round"/><polygon points="1424,441 1449,458 1467,426 1459,411 1456,410 1427,421 1421,432" fill="#a0a0a0" stroke="#b0b0b0" stroke-width="1.2" stroke-linejoin="round"/><polygon points="1759,646 1793,652 1799,648 1800,641 1788,609 1775,607 1755,623 1757,644" fill="#313131" stroke="#404040" stroke-width="1.2" stroke-linejoin="round"/><polygon points="1805,640 1839,613 1839,612 1828,599 1804,598 1792,606" fill="#c1c1c1" stroke="#d0d0d0" stroke-width="1.2" stroke-linejoin="round"/><polygon points="1650,376 1664,365 1691,391 1685,401 1656,404 1650,397" fill="#757575" stroke="#848484" stroke-width="1.2" stroke-linejoin="round"/><polygon points="1302,511 1265,524 1248,524 1242,494 1244,488 1290,472 1293,472 1308,502" fill="#373737" stroke="#464646" stroke-width="1.2" stroke-linejoin="round"/><polygon points="1942,798 1927,818 1953,837 1982,821 1953,798" fill="#878787" stroke="#979797" stroke-width="1.2" stroke-linejoin="round"/><polygon points="1546,906 1539,894 1500,905 1499,906 1498,957 1505,960 1536,960" fill="#8d8d8d" stroke="#9c9c9c" stroke-width="1.2" stroke-linejoin="round"/><polygon points="1323,858 1291,855 1271,882 1309,889 1323,873" fill="#b0b0b0" stroke="#c0c0c0" stroke-width="1.2" stroke-linejoin="round"/><polygon points="1789,910 1789,886 1814,881 1817,907 1798,914" fill="#656565" stroke="#747474" stroke-width="1.2" stroke-linejoin="round"/><polygon points="1514,583 1488,580 1488,579 1487,577 1499,556 1521,555 1526,559 1527,570" fill="#989898" stroke="#a8a8a8" stroke-width="1.2" stroke-linejoin="round"/><polygon points="1431,535 1456,544 1458,558 1436,574 1419,552" fill="#3d3d3d" stroke="#4c4c4c" stroke-width="1.2" stroke-linejoin="round"/><polygon points="1313,351 1324,305 1305,298 1267,306 1293,357" fill="#8d8d8d" stroke="#9d9d9d" stroke-width="1.2" stroke-linejoin="round"/><polygon points="1616,363 1590,359 1582,345 1586,307 1587,307 1623,305 1635,310 1619,362" fill="#565656" stroke="#666666" stroke-width="1.2" stroke-linejoin="round"/><polygon points="1938,896 1949,862 2005,876 2006,892 1940,898" fill="#8c8c8c" stroke="#9c9c9c" stroke-width="1.2" stroke-linejoin="round"/><polygon points="1410,899 1391,919 1399,954 1422,954 1423,953 1420,907" fill="#858585" stroke="#959595" stroke-width="1.2" stroke-linejoin="round"/><polygon points="1388,755 1367,729 1350,732 1345,761 1349,767 1361,770" fill="#535353" stroke="#636363" stroke-width="1.2" stroke-linejoin="round"/><polygon points="1940,733 1940,720 1927,709 1912,713 1903,733 1920,744" fill="#8b8b8b" stroke="#9b9b9b" stroke-width="1.2" stroke-linejoin="round"/><polygon points="1690,460 1672,468 1664,465 1658,438 1658,437 1690,439 1691,440 1692,456" fill="#6d6d6d" stroke="#7d7d7d" stroke-width="1.2" stroke-linejoin="round"/><polygon points="1684,883 1654,876 1656,862 1683,838 1691,845 1693,874" fill="#bdbdbd" stroke="#cdcdcd" stroke-width="1.2" stroke-linejoin="round"/><polygon points="1393,586 1397,590 1433,589 1435,576 1417,553 1400,557" fill="#3e3e3e" stroke="#4d4d4d" stroke-width="1.2" stroke-linejoin="round"/><polygon points="1494,875 1472,870 1460,882 1459,892 1460,893 1496,904 1497,902" fill="#aaaaaa" stroke="#b9b9b9" stroke-width="1.2" stroke-linejoin="round"/><polygon points="1620,364 1638,309 1649,309 1665,360 1664,363 1649,374" fill="#373737" stroke="#464646" stroke-width="1.2" stroke-linejoin="round"/><polygon points="1386,530 1406,517 1425,524 1428,534 1416,550 1400,554 1384,539" fill="#747474" stroke="#848484" stroke-width="1.2" stroke-linejoin="round"/><polygon points="1457,595 1477,582 1477,579 1458,563 1440,577 1438,588 1439,589" fill="#b1b1b1" stroke="#c1c1c1" stroke-width="1.2" stroke-linejoin="round"/><polygon points="1300,399 1239,391 1238,380 1291,361" fill="#8c8c8c" stroke="#9c9c9c" stroke-width="1.2" stroke-linejoin="round"/><polygon points="1494,725 1490,720 1502,689 1526,690 1528,692 1523,730 1519,732" fill="#777777" stroke="#868686" stroke-width="1.2" stroke-linejoin="round"/><polygon points="1264,527 1313,560 1285,580 1241,554 1242,534 1246,527" fill="#737373" stroke="#838383" stroke-width="1.2" stroke-linejoin="round"/><polygon points="1538,478 1559,463 1573,468 1571,497 1538,499" fill="#b2b2b2" stroke="#c2c2c2" stroke-width="1.2" stroke-linejoin="round"/><polygon points="1823,560 1806,570 1808,590 1827,591 1833,565 1830,560" fill="#afafaf" stroke="#bfbfbf" stroke-width="1.2" stroke-linejoin="round"/><polygon points="1604,776 1611,787 1597,805 1578,807 1564,794 1579,772 1583,771" fill="#8d8d8d" stroke="#9d9d9d" stroke-width="1.2" stroke-linejoin="round"/><polygon points="1958,743 1981,716 1965,708 1944,720 1944,732" fill="#4f4f4f" stroke="#5f5f5f" stroke-width="1.2" stroke-linejoin="round"/><polygon points="1673,637 1676,617 1695,609 1705,625 1701,645" fill="#8e8e8e" stroke="#9d9d9d" stroke-width="1.2" stroke-linejoin="round"/><polygon points="1574,843 1546,842 1535,831 1555,796 1560,796 1576,810 1578,839" fill="#646464" stroke="#737373" stroke-width="1.2" stroke-linejoin="round"/><polygon points="1651,910 1666,923 1661,966 1626,966 1623,965 1616,922" fill="#878787" stroke="#979797" stroke-width="1.2" stroke-linejoin="round"/><polygon points="1343,727 1332,703 1314,699 1303,727 1313,739" fill="#b8b8b8" stroke="#c8c8c8" stroke-width="1.2" stroke-linejoin="round"/><polygon points="1728,763 1743,744 1740,725 1711,716 1697,734 1713,759" fill="#4b4b4b" stroke="#5b5b5b" stroke-width="1.2" stroke-linejoin="round"/><polygon points="1900,574 1896,591 1924,602 1936,598 1935,569 1932,568" fill="#adadad" stroke="#bdbdbd" stroke-width="1.2" stroke-linejoin="round"/><polygon points="1425,818 1459,826 1468,806 1467,804 1433,788 1420,804" fill="#6a6a6a" stroke="#7a7a7a" stroke-width="1.2" stroke-linejoin="round"/><polygon points="1796,399 1785,392 1767,396 1760,423 1791,444 1804,422" fill="#d2d2d2" stroke="#e2e2e2" stroke-width="1.2" stroke-linejoin="round"/><polygon points="1700,552 1675,531 1664,557 1674,571 1679,572 1699,561" fill="#b0b0b0" stroke="#c0c0c0" stroke-width="1.2" stroke-linejoin="round"/><polygon points="1908,778 1925,772 1925,770 1920,744 1902,733 1898,735 1886,767" fill="#939393" stroke="#a2a2a2" stroke-width="1.2" stroke-linejoin="round"/><polygon points="1730,685 1708,657 1707,656 1686,683 1710,710" fill="#8a8a8a" stroke="#9a9a9a" stroke-width="1.2" stroke-linejoin="round"/><polygon points="1797,538 1782,546 1780,557 1799,564 1815,554" fill="#8f8f8f" stroke="#9e9e9e" stroke-width="1.2" stroke-linejoin="round"/><polygon points="1669,477 1671,514 1644,511 1638,479 1659,473" fill="#aeaeae" stroke="#bebebe" stroke-width="1.2" stroke-linejoin="round"/><polygon points="1764,468 1790,454 1801,497 1801,497 1768,498 1763,492" fill="#8e8e8e" stroke="#9e9e9e" stroke-width="1.2" stroke-linejoin="round"/><polygon points="1520,438 1524,465 1536,475 1556,460 1552,445 1530,434" fill="#808080" stroke="#909090" stroke-width="1.2" stroke-linejoin="round"/><polygon points="1853,352 1867,365 1892,356 1867,305 1865,305 1848,311" fill="#8e8e8e" stroke="#9e9e9e" stroke-width="1.2" stroke-linejoin="round"/><polygon points="1355,893 1355,900 1345,914 1313,911 1310,890 1324,875" fill="#969696" stroke="#a6a6a6" stroke-width="1.2" stroke-linejoin="round"/><polygon points="1391,649 1399,665 1373,687 1358,680 1363,651 1382,644" fill="#838383" stroke="#939393" stroke-width="1.2" stroke-linejoin="round"/><polygon points="1365,847 1371,875 1407,880 1416,858 1409,844 1384,834 1372,837" fill="#a4a4a4" stroke="#b4b4b4" stroke-width="1.2" stroke-linejoin="round"/><polygon points="1899,682 1921,673 1930,688 1924,705 1912,708 1898,687" fill="#979797" stroke="#a7a7a7" stroke-width="1.2" stroke-linejoin="round"/><polygon points="1361,582 1354,614 1376,621 1395,603 1396,591 1393,586" fill="#4a4a4a" stroke="#5a5a5a" stroke-width="1.2" stroke-linejoin="round"/><polygon points="1963,756 1971,764 2008,768 2012,735 2005,718 1985,718 1961,746" fill="#474747" stroke="#575757" stroke-width="1.2" stroke-linejoin="round"/><polygon points="1810,746 1793,736 1791,719 1795,709 1819,707 1828,719 1826,735" fill="#858585" stroke="#959595" stroke-width="1.2" stroke-linejoin="round"/><polygon points="1748,890 1777,876 1772,853 1742,859" fill="#898989" stroke="#999999" stroke-width="1.2" stroke-linejoin="round"/><polygon points="1868,665 1849,679 1835,678 1827,662 1852,639 1855,641" fill="#4d4d4d" stroke="#5d5d5d" stroke-width="1.2" stroke-linejoin="round"/><polygon points="1371,875 1357,893 1357,900 1385,915 1409,888 1406,881" fill="#b5b5b5" stroke="#c4c4c4" stroke-width="1.2" stroke-linejoin="round"/><polygon points="1449,755 1433,770 1434,786 1467,802 1474,768" fill="#909090" stroke="#a0a0a0" stroke-width="1.2" stroke-linejoin="round"/><polygon points="1454,641 1460,654 1452,681 1423,668 1440,641" fill="#959595" stroke="#a5a5a5" stroke-width="1.2" stroke-linejoin="round"/><polygon points="1730,465 1732,493 1761,492 1762,466 1744,456" fill="#787878" stroke="#888888" stroke-width="1.2" stroke-linejoin="round"/><polygon points="1578,673 1573,663 1586,619 1586,619 1599,618 1616,637 1617,649" fill="#8c8c8c" stroke="#9c9c9c" stroke-width="1.2" stroke-linejoin="round"/><polygon points="1746,575 1759,576 1766,600 1750,612 1741,607 1732,586 1733,584" fill="#a2a2a2" stroke="#b2b2b2" stroke-width="1.2" stroke-linejoin="round"/><polygon points="1877,474 1849,475 1839,466 1837,459 1844,442 1864,437 1883,468" fill="#919191" stroke="#a1a1a1" stroke-width="1.2" stroke-linejoin="round"/><polygon points="1442,364 1460,352 1454,308 1427,306 1417,310 1432,362" fill="#919191" stroke="#a1a1a1" stroke-width="1.2" stroke-linejoin="round"/><polygon points="1797,918 1820,909 1833,916 1829,969 1825,971 1804,968" fill="#494949" stroke="#595959" stroke-width="1.2" stroke-linejoin="round"/><polygon points="1643,742 1630,738 1626,733 1626,725 1642,706 1655,710 1658,722" fill="#c6c6c6" stroke="#d5d5d5" stroke-width="1.2" stroke-linejoin="round"/><polygon points="1612,863 1582,880 1573,873 1574,844 1579,840 1611,847" fill="#888888" stroke="#979797" stroke-width="1.2" stroke-linejoin="round"/><polygon points="1985,663 2006,665 2010,693 2004,709 1985,709 1971,702 1964,691 1971,670" fill="#6e6e6e" stroke="#7d7d7d" stroke-width="1.2" stroke-linejoin="round"/><polygon points="1412,713 1379,706 1373,689 1400,665 1417,670" fill="#b9b9b9" stroke="#c9c9c9" stroke-width="1.2" stroke-linejoin="round"/><polygon points="1581,880 1586,908 1546,905 1540,893 1542,881 1545,879 1572,874" fill="#3e3e3e" stroke="#4e4e4e" stroke-width="1.2" stroke-linejoin="round"/><polygon points="1884,599 1895,591 1898,574 1889,557 1887,555 1860,569 1872,597" fill="#717171" stroke="#818181" stroke-width="1.2" stroke-linejoin="round"/><polygon points="1891,555 1924,536 1932,567 1899,574" fill="#929292" stroke="#a2a2a2" stroke-width="1.2" stroke-linejoin="round"/><polygon points="1694,435 1686,402 1656,406 1652,432" fill="#777777" stroke="#878787" stroke-width="1.2" stroke-linejoin="round"/><polygon points="1825,857 1826,871 1851,875 1859,870 1860,861 1853,848 1844,846" fill="#616161" stroke="#717171" stroke-width="1.2" stroke-linejoin="round"/><polygon points="1611,516 1628,522 1627,554 1607,557 1594,534" fill="#7d7d7d" stroke="#8c8c8c" stroke-width="1.2" stroke-linejoin="round"/><polygon points="1734,527 1756,522 1762,502 1757,497 1734,497 1723,508 1732,526" fill="#c4c4c4" stroke="#d3d3d3" stroke-width="1.2" stroke-linejoin="round"/><polygon points="1562,724 1579,721 1590,697 1590,697 1577,685 1560,695" fill="#848484" stroke="#949494" stroke-width="1.2" stroke-linejoin="round"/><polygon points="1552,631 1548,646 1570,658 1580,624" fill="#b5b5b5" stroke="#c5c5c5" stroke-width="1.2" stroke-linejoin="round"/><polygon points="1643,604 1639,623 1619,631 1606,616 1613,606 1632,600" fill="#868686" stroke="#959595" stroke-width="1.2" stroke-linejoin="round"/><polygon points="1930,404 1906,413 1896,396 1909,370 1934,388" fill="#505050" stroke="#5f5f5f" stroke-width="1.2" stroke-linejoin="round"/><polygon points="1493,437 1482,473 1451,464 1450,460 1469,426" fill="#8c8c8c" stroke="#9b9b9b" stroke-width="1.2" stroke-linejoin="round"/><polygon points="1836,515 1847,505 1879,511 1882,515 1877,531 1842,537" fill="#4d4d4d" stroke="#5d5d5d" stroke-width="1.2" stroke-linejoin="round"/><polygon points="1522,468 1487,479 1487,484 1514,511 1518,512 1536,502 1536,501 1536,478" fill="#8f8f8f" stroke="#9e9e9e" stroke-width="1.2" stroke-linejoin="round"/><polygon points="1456,958 1427,959 1423,900 1456,893 1457,895" fill="#949494" stroke="#a4a4a4" stroke-width="1.2" stroke-linejoin="round"/><polygon points="1956,379 1954,357 2006,336 2006,336 2011,373 2005,390 1980,393" fill="#909090" stroke="#9f9f9f" stroke-width="1.2" stroke-linejoin="round"/><polygon points="1868,803 1877,814 1855,843 1844,840 1830,808 1833,804" fill="#3f3f3f" stroke="#4f4f4f" stroke-width="1.2" stroke-linejoin="round"/><polygon points="1786,695 1794,655 1757,649 1753,681" fill="#909090" stroke="#a0a0a0" stroke-width="1.2" stroke-linejoin="round"/><polygon points="1360,397 1352,412 1362,428 1376,429 1379,427 1380,402 1372,394" fill="#585858" stroke="#686868" stroke-width="1.2" stroke-linejoin="round"/><polygon points="1353,682 1332,702 1314,698 1310,693 1310,677 1326,661" fill="#969696" stroke="#a6a6a6" stroke-width="1.2" stroke-linejoin="round"/><polygon points="1860,764 1871,771 1885,767 1898,735 1872,724 1856,751" fill="#909090" stroke="#9f9f9f" stroke-width="1.2" stroke-linejoin="round"/><polygon points="1786,914 1796,920 1803,966 1785,972 1760,966 1776,918" fill="#767676" stroke="#868686" stroke-width="1.2" stroke-linejoin="round"/><polygon points="1536,614 1522,613 1506,629 1509,641 1530,651 1542,647 1547,629" fill="#595959" stroke="#686868" stroke-width="1.2" stroke-linejoin="round"/><polygon points="1311,700 1302,725 1283,725 1262,703 1307,696" fill="#a2a2a2" stroke="#b2b2b2" stroke-width="1.2" stroke-linejoin="round"/><polygon points="1594,738 1582,726 1594,698 1619,725 1619,735" fill="#9f9f9f" stroke="#afafaf" stroke-width="1.2" stroke-linejoin="round"/><polygon points="1383,430 1418,431 1424,420 1410,394 1385,401" fill="#323232" stroke="#424242" stroke-width="1.2" stroke-linejoin="round"/><polygon points="1729,764 1743,745 1770,754 1768,772 1741,783 1737,782" fill="#3c3c3c" stroke="#4c4c4c" stroke-width="1.2" stroke-linejoin="round"/><polygon points="1502,394 1521,382 1521,381 1512,363 1493,354 1477,359 1485,392" fill="#838383" stroke="#929292" stroke-width="1.2" stroke-linejoin="round"/><polygon points="1401,475 1402,480 1398,486 1372,493 1369,474 1381,462" fill="#8c8c8c" stroke="#9b9b9b" stroke-width="1.2" stroke-linejoin="round"/><polygon points="1277,656 1286,638 1258,627 1243,629 1241,651 1247,667" fill="#767676" stroke="#868686" stroke-width="1.2" stroke-linejoin="round"/><polygon points="1358,392 1335,373 1310,408 1310,408 1348,412" fill="#7f7f7f" stroke="#8f8f8f" stroke-width="1.2" stroke-linejoin="round"/><polygon points="1287,791 1307,772 1329,798 1329,799 1299,813" fill="#606060" stroke="#6f6f6f" stroke-width="1.2" stroke-linejoin="round"/><polygon points="1609,871 1618,880 1607,909 1591,904 1591,904 1587,883" fill="#404040" stroke="#505050" stroke-width="1.2" stroke-linejoin="round"/><polygon points="1281,583 1282,594 1257,616 1239,619 1234,611 1233,577 1242,560" fill="#6b6b6b" stroke="#7b7b7b" stroke-width="1.2" stroke-linejoin="round"/><polygon points="1365,502 1383,530 1381,540 1361,548 1342,539 1345,507" fill="#515151" stroke="#616161" stroke-width="1.2" stroke-linejoin="round"/><polygon points="1454,469 1478,476 1481,481 1481,484 1466,502 1447,497 1444,486" fill="#b6b6b6" stroke="#c6c6c6" stroke-width="1.2" stroke-linejoin="round"/><polygon points="1342,637 1326,649 1302,632 1310,612 1321,607 1344,619" fill="#cbcbcb" stroke="#dadada" stroke-width="1.2" stroke-linejoin="round"/><polygon points="1950,858 1951,861 2003,873 2009,853 2003,824 1982,823 1955,838" fill="#7a7a7a" stroke="#898989" stroke-width="1.2" stroke-linejoin="round"/><polygon points="1557,588 1532,570 1531,556 1561,541 1576,571 1565,588" fill="#a5a5a5" stroke="#b5b5b5" stroke-width="1.2" stroke-linejoin="round"/><polygon points="1466,624 1490,619 1482,587 1482,587 1462,599" fill="#a8a8a8" stroke="#b7b7b7" stroke-width="1.2" stroke-linejoin="round"/><polygon points="1866,707 1864,712 1835,715 1825,702 1835,681 1849,683" fill="#aaaaaa" stroke="#bababa" stroke-width="1.2" stroke-linejoin="round"/><polygon points="1592,534 1606,560 1600,566 1577,571 1561,541 1562,540 1576,531" fill="#838383" stroke="#929292" stroke-width="1.2" stroke-linejoin="round"/><polygon points="1343,727 1333,703 1354,682 1357,682 1373,689 1378,706 1367,727 1349,730" fill="#9a9a9a" stroke="#aaaaaa" stroke-width="1.2" stroke-linejoin="round"/><polygon points="1958,760 1967,768 1952,796 1942,796 1927,772 1928,771" fill="#b0b0b0" stroke="#c0c0c0" stroke-width="1.2" stroke-linejoin="round"/><polygon points="1872,801 1879,809 1897,813 1903,781 1885,772 1874,776" fill="#7e7e7e" stroke="#8e8e8e" stroke-width="1.2" stroke-linejoin="round"/><polygon points="1895,466 1910,441 1930,444 1935,449 1931,474 1916,482" fill="#b7b7b7" stroke="#c7c7c7" stroke-width="1.2" stroke-linejoin="round"/><polygon points="1746,568 1763,569 1774,559 1777,544 1760,525 1731,532" fill="#a0a0a0" stroke="#b0b0b0" stroke-width="1.2" stroke-linejoin="round"/><polygon points="1710,806 1729,830 1750,817 1752,809 1740,786 1736,785" fill="#6d6d6d" stroke="#7d7d7d" stroke-width="1.2" stroke-linejoin="round"/><polygon points="1286,467 1243,482 1234,454 1240,429 1277,434" fill="#707070" stroke="#7f7f7f" stroke-width="1.2" stroke-linejoin="round"/><polygon points="1642,834 1657,859 1681,838 1681,838 1665,824" fill="#cacaca" stroke="#dadada" stroke-width="1.2" stroke-linejoin="round"/><polygon points="1437,857 1460,838 1466,844 1468,865 1458,875" fill="#c6c6c6" stroke="#d6d6d6" stroke-width="1.2" stroke-linejoin="round"/><polygon points="1606,500 1611,481 1624,475 1635,478 1641,513 1629,519 1612,513" fill="#9b9b9b" stroke="#aaaaaa" stroke-width="1.2" stroke-linejoin="round"/><polygon points="1645,750 1636,792 1614,786 1606,774 1626,743 1644,749" fill="#ababab" stroke="#bbbbbb" stroke-width="1.2" stroke-linejoin="round"/><polygon points="1499,550 1488,531 1513,513 1517,514 1523,549" fill="#a7a7a7" stroke="#b6b6b6" stroke-width="1.2" stroke-linejoin="round"/><polygon points="1427,625 1411,624 1395,603 1396,591 1434,590 1434,591" fill="#909090" stroke="#a0a0a0" stroke-width="1.2" stroke-linejoin="round"/><polygon points="1666,798 1666,822 1682,836 1704,806 1683,788 1681,788" fill="#afafaf" stroke="#bfbfbf" stroke-width="1.2" stroke-linejoin="round"/><polygon points="1323,659 1324,651 1302,635 1298,637 1287,660 1309,673" fill="#b4b4b4" stroke="#c4c4c4" stroke-width="1.2" stroke-linejoin="round"/><polygon points="1785,912 1785,883 1778,877 1747,891 1742,903 1775,916" fill="#929292" stroke="#a1a1a1" stroke-width="1.2" stroke-linejoin="round"/><polygon points="1634,594 1609,602 1601,567 1607,560 1628,557 1630,558" fill="#a2a2a2" stroke="#b2b2b2" stroke-width="1.2" stroke-linejoin="round"/><polygon points="1422,442 1449,461 1450,464 1437,486 1406,480 1405,474" fill="#4f4f4f" stroke="#5f5f5f" stroke-width="1.2" stroke-linejoin="round"/><polygon points="1931,644 1951,624 1941,604 1936,601 1926,606 1920,633" fill="#a9a9a9" stroke="#b9b9b9" stroke-width="1.2" stroke-linejoin="round"/><polygon points="1908,845 1907,825 1927,819 1952,837 1946,858 1911,851" fill="#aeaeae" stroke="#bebebe" stroke-width="1.2" stroke-linejoin="round"/><polygon points="1283,922 1255,960 1265,967 1305,974 1323,967 1308,918" fill="#757575" stroke="#858585" stroke-width="1.2" stroke-linejoin="round"/><polygon points="1983,583 1958,563 1935,569 1937,598 1943,601" fill="#808080" stroke="#8f8f8f" stroke-width="1.2" stroke-linejoin="round"/><polygon points="1945,960 1950,935 1939,902 1937,901 1911,901 1927,960 1944,961" fill="#c0c0c0" stroke="#d0d0d0" stroke-width="1.2" stroke-linejoin="round"/><polygon points="1705,550 1674,524 1674,518 1713,506 1717,507 1729,531" fill="#8c8c8c" stroke="#9b9b9b" stroke-width="1.2" stroke-linejoin="round"/><polygon points="1689,920 1672,930 1668,962 1671,964 1700,964 1713,958" fill="#6c6c6c" stroke="#7c7c7c" stroke-width="1.2" stroke-linejoin="round"/><polygon points="1936,449 1932,475 1964,491 1971,488 1955,452" fill="#7d7d7d" stroke="#8d8d8d" stroke-width="1.2" stroke-linejoin="round"/><polygon points="1747,684 1751,681 1755,650 1753,647 1711,657 1731,684" fill="#6d6d6d" stroke="#7d7d7d" stroke-width="1.2" stroke-linejoin="round"/><polygon points="1395,605 1376,621 1382,642 1392,647 1410,625" fill="#7d7d7d" stroke="#8c8c8c" stroke-width="1.2" stroke-linejoin="round"/><polygon points="1579,381 1567,386 1544,373 1551,355 1579,347 1587,362" fill="#848484" stroke="#949494" stroke-width="1.2" stroke-linejoin="round"/><polygon points="1529,655 1508,644 1493,663 1495,679 1502,686 1525,687" fill="#a4a4a4" stroke="#b4b4b4" stroke-width="1.2" stroke-linejoin="round"/><polygon points="2005,595 2015,615 2013,652 2009,657 1985,656 1964,627" fill="#7c7c7c" stroke="#8b8b8b" stroke-width="1.2" stroke-linejoin="round"/><polygon points="1412,392 1426,418 1455,407 1442,370 1431,368 1417,375" fill="#9a9a9a" stroke="#aaaaaa" stroke-width="1.2" stroke-linejoin="round"/><polygon points="1866,861 1906,846 1909,852 1905,895 1895,897 1865,873" fill="#929292" stroke="#a2a2a2" stroke-width="1.2" stroke-linejoin="round"/><polygon points="1366,502 1383,528 1405,514 1399,490 1370,497" fill="#bbbbbb" stroke="#cbcbcb" stroke-width="1.2" stroke-linejoin="round"/><polygon points="1684,883 1691,907 1724,898 1712,874 1693,874" fill="#a7a7a7" stroke="#b7b7b7" stroke-width="1.2" stroke-linejoin="round"/><polygon points="2003,586 2011,573 2011,536 2009,531 1963,541 1961,563 1985,581" fill="#6f6f6f" stroke="#7e7e7e" stroke-width="1.2" stroke-linejoin="round"/><polygon points="1883,514 1914,510 1915,483 1894,467 1885,469 1879,475 1880,510" fill="#434343" stroke="#535353" stroke-width="1.2" stroke-linejoin="round"/><polygon points="1271,882 1290,855 1280,831 1239,827 1232,854 1239,878 1270,882" fill="#696969" stroke="#797979" stroke-width="1.2" stroke-linejoin="round"/><polygon points="1522,611 1504,628 1494,623 1484,582 1516,587" fill="#707070" stroke="#7f7f7f" stroke-width="1.2" stroke-linejoin="round"/><polygon points="1954,961 1985,967 2004,960 2012,936 2003,904 1959,938" fill="#676767" stroke="#777777" stroke-width="1.2" stroke-linejoin="round"/><polygon points="1724,588 1699,604 1699,607 1708,621 1735,612" fill="#666666" stroke="#767676" stroke-width="1.2" stroke-linejoin="round"/><polygon points="1508,861 1542,881 1539,893 1500,904 1497,873" fill="#8b8b8b" stroke="#9b9b9b" stroke-width="1.2" stroke-linejoin="round"/><polygon points="1531,430 1554,442 1570,423 1558,408 1539,411" fill="#787878" stroke="#888888" stroke-width="1.2" stroke-linejoin="round"/><polygon points="1434,532 1456,540 1469,528 1464,511 1443,505 1431,523" fill="#aeaeae" stroke="#bebebe" stroke-width="1.2" stroke-linejoin="round"/><polygon points="1354,351 1348,304 1345,303 1326,305 1315,352 1335,366" fill="#838383" stroke="#929292" stroke-width="1.2" stroke-linejoin="round"/><polygon points="1887,631 1859,640 1870,663 1884,666 1891,634" fill="#404040" stroke="#505050" stroke-width="1.2" stroke-linejoin="round"/><polygon points="1509,428 1517,430 1526,426 1532,411 1521,391 1506,400" fill="#515151" stroke="#616161" stroke-width="1.2" stroke-linejoin="round"/><polygon points="1373,834 1358,810 1369,797 1392,797 1394,799 1384,832" fill="#bbbbbb" stroke="#cbcbcb" stroke-width="1.2" stroke-linejoin="round"/><polygon points="1872,426 1866,398 1895,398 1905,413 1901,426" fill="#676767" stroke="#777777" stroke-width="1.2" stroke-linejoin="round"/><polygon points="1579,385 1568,389 1561,406 1572,420 1583,421 1590,400" fill="#cdcdcd" stroke="#dddddd" stroke-width="1.2" stroke-linejoin="round"/><polygon points="1860,920 1875,963 1881,962 1892,904" fill="#808080" stroke="#8f8f8f" stroke-width="1.2" stroke-linejoin="round"/><polygon points="1808,502 1805,498 1805,497 1836,471 1845,478 1843,503 1834,512" fill="#b7b7b7" stroke="#c7c7c7" stroke-width="1.2" stroke-linejoin="round"/><polygon points="1419,803 1432,787 1431,770 1397,761 1394,795 1396,798" fill="#a5a5a5" stroke="#b5b5b5" stroke-width="1.2" stroke-linejoin="round"/><polygon points="1416,374 1431,367 1414,307 1403,307 1387,357" fill="#727272" stroke="#828282" stroke-width="1.2" stroke-linejoin="round"/><polygon points="1305,514 1267,528 1313,559 1314,559 1321,547" fill="#000000" stroke="#0e0e0e" stroke-width="1.2" stroke-linejoin="round"/><polygon points="1292,360 1237,379 1233,374 1231,334 1242,311 1265,305 1265,305 1292,359" fill="#797979" stroke="#898989" stroke-width="1.2" stroke-linejoin="round"/><polygon points="1751,819 1729,833 1727,844 1730,851 1741,857 1772,851 1775,845" fill="#808080" stroke="#8f8f8f" stroke-width="1.2" stroke-linejoin="round"/><polygon points="1749,348 1739,312 1747,307 1782,303 1790,354 1790,354" fill="#7e7e7e" stroke="#8e8e8e" stroke-width="1.2" stroke-linejoin="round"/><polygon points="1813,764 1831,778 1860,764 1856,751 1831,738 1811,752" fill="#515151" stroke="#606060" stroke-width="1.2" stroke-linejoin="round"/><polygon points="1834,555 1838,561 1858,568 1886,553 1877,532 1842,538" fill="#747474" stroke="#848484" stroke-width="1.2" stroke-linejoin="round"/><polygon points="1829,363 1848,350 1844,316 1841,315 1815,352" fill="#474747" stroke="#575757" stroke-width="1.2" stroke-linejoin="round"/><polygon points="1581,914 1549,912 1542,955 1548,958 1556,958 1581,915" fill="#515151" stroke="#606060" stroke-width="1.2" stroke-linejoin="round"/><polygon points="1747,718 1747,687 1730,686 1710,710 1711,715 1740,724" fill="#808080" stroke="#909090" stroke-width="1.2" stroke-linejoin="round"/><polygon points="1512,362 1530,333 1527,305 1505,300 1504,301 1493,354" fill="#5e5e5e" stroke="#6d6d6d" stroke-width="1.2" stroke-linejoin="round"/><polygon points="1264,893 1242,890 1236,901 1236,929 1246,946 1254,948 1274,921" fill="#757575" stroke="#858585" stroke-width="1.2" stroke-linejoin="round"/><polygon points="1332,498 1312,500 1298,471 1311,463 1334,472" fill="#7f7f7f" stroke="#8e8e8e" stroke-width="1.2" stroke-linejoin="round"/><polygon points="1809,355 1794,356 1785,300 1786,300 1825,299 1842,309" fill="#696969" stroke="#787878" stroke-width="1.2" stroke-linejoin="round"/><polygon points="1692,391 1712,382 1699,350 1665,360 1664,363" fill="#747474" stroke="#838383" stroke-width="1.2" stroke-linejoin="round"/><polygon points="1615,400 1593,400 1585,423 1597,435 1617,433 1618,404" fill="#b3b3b3" stroke="#c3c3c3" stroke-width="1.2" stroke-linejoin="round"/><polygon points="1480,766 1476,767 1469,804 1469,805 1500,809 1515,783 1506,772" fill="#8f8f8f" stroke="#9e9e9e" stroke-width="1.2" stroke-linejoin="round"/><polygon points="1821,908 1818,877 1820,876 1851,881 1845,911 1833,915" fill="#a8a8a8" stroke="#b8b8b8" stroke-width="1.2" stroke-linejoin="round"/><polygon points="1726,469 1701,464 1698,467 1713,500 1717,501 1728,491" fill="#b6b6b6" stroke="#c5c5c5" stroke-width="1.2" stroke-linejoin="round"/><polygon points="1964,418 1969,438 2011,448 2015,414 2005,393 1980,396" fill="#4f4f4f" stroke="#5e5e5e" stroke-width="1.2" stroke-linejoin="round"/><polygon points="1605,500 1610,480 1583,464 1575,467 1573,499 1575,501" fill="#949494" stroke="#a4a4a4" stroke-width="1.2" stroke-linejoin="round"/><polygon points="1697,870 1695,848 1723,848 1725,853 1712,870" fill="#a6a6a6" stroke="#b5b5b5" stroke-width="1.2" stroke-linejoin="round"/><polygon points="1670,637 1673,616 1654,601 1649,603 1644,626 1662,641" fill="#7b7b7b" stroke="#8b8b8b" stroke-width="1.2" stroke-linejoin="round"/><polygon points="1972,770 2009,774 2009,776 2008,812 2004,819 1984,818 1958,797" fill="#797979" stroke="#898989" stroke-width="1.2" stroke-linejoin="round"/><polygon points="1836,920 1847,916 1857,921 1871,963 1863,967 1832,965" fill="#656565" stroke="#757575" stroke-width="1.2" stroke-linejoin="round"/><polygon points="1642,699 1630,682 1594,695 1594,696 1620,725" fill="#adadad" stroke="#bdbdbd" stroke-width="1.2" stroke-linejoin="round"/><polygon points="1647,749 1670,760 1692,735 1664,723 1646,748" fill="#c6c6c6" stroke="#d5d5d5" stroke-width="1.2" stroke-linejoin="round"/><polygon points="1813,764 1789,791 1789,793 1823,809 1829,807 1832,804 1831,778" fill="#666666" stroke="#767676" stroke-width="1.2" stroke-linejoin="round"/><polygon points="1619,368 1617,397 1620,401 1646,396 1646,376 1621,367" fill="#7e7e7e" stroke="#8d8d8d" stroke-width="1.2" stroke-linejoin="round"/><polygon points="1636,794 1628,828 1621,831 1601,808 1615,789 1635,793" fill="#bcbcbc" stroke="#cbcbcb" stroke-width="1.2" stroke-linejoin="round"/><polygon points="1429,715 1421,714 1416,708 1420,677 1421,677 1447,689 1447,689" fill="#969696" stroke="#a6a6a6" stroke-width="1.2" stroke-linejoin="round"/><polygon points="1535,331 1551,348 1574,341 1578,308 1547,303 1532,308" fill="#8c8c8c" stroke="#9c9c9c" stroke-width="1.2" stroke-linejoin="round"/><polygon points="1582,768 1578,770 1553,737 1558,731 1580,726 1593,739" fill="#9e9e9e" stroke="#adadad" stroke-width="1.2" stroke-linejoin="round"/><polygon points="1838,399 1829,420 1807,420 1800,399 1827,389" fill="#6f6f6f" stroke="#7f7f7f" stroke-width="1.2" stroke-linejoin="round"/><polygon points="1538,502 1572,500 1574,502 1575,530 1561,538 1537,503" fill="#c3c3c3" stroke="#d3d3d3" stroke-width="1.2" stroke-linejoin="round"/><polygon points="1507,861 1509,842 1469,841 1472,867 1497,872" fill="#b2b2b2" stroke="#c2c2c2" stroke-width="1.2" stroke-linejoin="round"/><polygon points="1931,654 1966,666 1958,691 1934,687 1924,669" fill="#929292" stroke="#a1a1a1" stroke-width="1.2" stroke-linejoin="round"/><polygon points="1302,814 1300,819 1325,842 1335,809 1328,802" fill="#2b2b2b" stroke="#3b3b3b" stroke-width="1.2" stroke-linejoin="round"/><polygon points="1393,758 1389,757 1363,772 1369,793 1393,793 1395,761" fill="#5c5c5c" stroke="#6c6c6c" stroke-width="1.2" stroke-linejoin="round"/><polygon points="1929,406 1908,414 1905,427 1910,438 1930,441 1939,420" fill="#898989" stroke="#999999" stroke-width="1.2" stroke-linejoin="round"/><polygon points="1306,758 1308,756 1310,741 1302,731 1286,731 1283,752" fill="#666666" stroke="#767676" stroke-width="1.2" stroke-linejoin="round"/><polygon points="1455,686 1454,686 1464,656 1490,664 1492,680 1459,688" fill="#6c6c6c" stroke="#7c7c7c" stroke-width="1.2" stroke-linejoin="round"/><polygon points="1806,649 1826,659 1848,639 1838,617 1807,642" fill="#6d6d6d" stroke="#7c7c7c" stroke-width="1.2" stroke-linejoin="round"/><polygon points="1789,838 1777,845 1752,818 1754,809 1783,802" fill="#666666" stroke="#767676" stroke-width="1.2" stroke-linejoin="round"/><polygon points="1925,311 1905,303 1875,308 1896,352 1906,354 1924,333" fill="#808080" stroke="#909090" stroke-width="1.2" stroke-linejoin="round"/><polygon points="1329,797 1348,768 1344,762 1311,759 1309,762 1308,772" fill="#7b7b7b" stroke="#8b8b8b" stroke-width="1.2" stroke-linejoin="round"/><polygon points="1408,365 1433,375 1460,391 1456,400 1429,387 1404,375" fill="#181818"/><polygon points="1503,376 1503,383 1499,388 1496,386 1494,384 1493,377 1494,369 1497,367 1500,367 1503,370" fill="#1c1c1c"/><polygon points="1525,378 1525,385 1523,389 1520,391 1517,386 1517,379 1518,370 1520,367 1522,366 1524,371" fill="#1c1c1c"/><polygon points="1525,383 1525,386 1512,388 1501,388 1492,386 1494,383 1495,381 1502,379 1516,378 1523,381" fill="#202020"/><polygon points="1573,355 1577,371 1564,381 1554,377 1566,369" fill="#181818"/><polygon points="1630,360 1631,363 1625,365 1621,366 1616,363 1616,360 1617,357 1622,355 1625,354 1630,356" fill="#181818"/><polygon points="1508,409 1535,405 1541,428 1543,454 1533,456 1527,440 1510,434 1504,419" fill="#0c0c0c"/><polygon points="1477,445 1476,451 1470,457 1462,454 1455,451 1455,447 1456,439 1462,436 1470,435 1475,438" fill="#1c1c1c"/><polygon points="1472,452 1482,456 1490,468 1521,468 1533,458 1537,464 1525,479 1486,479 1474,468" fill="#141414"/><polygon points="1411,422 1411,432 1409,438 1404,435 1402,431 1402,420 1402,409 1404,405 1407,407 1411,412" fill="#242424"/><polygon points="1371,469 1399,478 1428,478 1463,488 1463,500 1428,490 1383,488 1369,480" fill="#181818"/><polygon points="1579,470 1612,468 1610,492 1604,505 1606,546 1612,562 1583,562 1594,542 1592,505 1581,495" fill="#0c0c0c"/><polygon points="1431,526 1432,539 1429,546 1425,549 1422,539 1421,527 1421,512 1424,509 1428,509 1432,514" fill="#141414"/><polygon points="1526,513 1525,519 1521,522 1519,524 1516,521 1516,513 1516,508 1519,504 1523,502 1525,508" fill="#101010"/><polygon points="1512,569 1513,576 1507,581 1504,580 1500,576 1499,568 1499,558 1503,552 1508,554 1512,558" fill="#101010"/><polygon points="1393,623 1392,637 1383,640 1371,642 1363,634 1360,622 1363,613 1371,604 1382,603 1391,609" fill="#101010"/><polygon points="1447,617 1446,624 1444,630 1438,631 1432,624 1431,616 1433,610 1438,604 1442,604 1447,608" fill="#141414"/><polygon points="1505,602 1502,608 1498,613 1490,613 1480,607 1480,602 1482,595 1489,593 1496,591 1502,595" fill="#101010"/><polygon points="1554,631 1548,637 1529,640 1506,642 1492,638 1491,630 1490,624 1510,619 1528,619 1549,624" fill="#0c0c0c"/><polygon points="1590,617 1589,624 1581,624 1568,626 1556,623 1557,616 1556,611 1567,610 1578,610 1592,612" fill="#141414"/><polygon points="1631,631 1630,637 1621,642 1607,640 1599,639 1596,629 1596,622 1611,620 1619,619 1632,624" fill="#141414"/><polygon points="1315,565 1312,572 1303,573 1295,573 1286,569 1283,564 1288,554 1296,551 1302,550 1312,555" fill="#202020"/><polygon points="1632,537 1630,542 1625,546 1621,545 1614,544 1614,537 1615,531 1620,530 1625,530 1631,532" fill="#1c1c1c"/><polygon points="1622,563 1621,565 1617,567 1614,568 1610,566 1608,563 1610,560 1613,558 1616,558 1621,560" fill="#202020"/><polygon points="1308,373 1306,381 1303,386 1297,385 1291,383 1290,372 1289,363 1295,358 1301,360 1306,366" fill="#202020"/><polygon points="1357,578 1357,581 1354,583 1352,584 1349,580 1349,577 1349,574 1351,572 1354,572 1356,573" fill="#303030"/><polygon points="1874,530 1870,539 1865,543 1852,544 1846,537 1844,527 1845,517 1853,515 1863,517 1870,519" fill="#101010"/><polygon points="1625,502 1666,500 1682,514 1700,543 1694,564 1672,576 1661,547 1664,523 1639,512 1625,510" fill="#141414"/><polygon points="1697,472 1697,479 1694,485 1690,483 1686,481 1685,472 1686,467 1688,461 1693,461 1698,466" fill="#202020"/><polygon points="1714,580 1726,583 1718,611 1710,632 1700,630 1704,601" fill="#141414"/><polygon points="1752,548 1768,550 1768,609 1778,622 1770,626 1754,611" fill="#181818"/><polygon points="1841,550 1839,555 1833,560 1828,561 1822,557 1819,549 1822,543 1828,539 1833,541 1838,544" fill="#1c1c1c"/><polygon points="1876,554 1876,562 1872,564 1869,565 1866,563 1866,555 1866,549 1868,545 1873,544 1876,549" fill="#1c1c1c"/><polygon points="1762,518 1762,521 1758,524 1755,524 1752,521 1752,518 1752,514 1756,513 1760,513 1761,515" fill="#181818"/><polygon points="1779,528 1779,532 1776,534 1773,533 1770,531 1769,528 1770,524 1772,522 1776,522 1779,525" fill="#181818"/><polygon points="1788,561 1788,565 1785,567 1781,566 1778,565 1778,562 1779,559 1782,556 1785,557 1788,558" fill="#181818"/><polygon points="1851,620 1851,624 1847,625 1843,626 1841,624 1841,621 1841,618 1843,615 1847,616 1850,617" fill="#181818"/><polygon points="1799,376 1798,378 1796,379 1795,379 1792,378 1792,376 1793,374 1794,373 1797,373 1798,374" fill="#181818"/><polygon points="1910,565 1909,569 1906,571 1902,570 1900,568 1900,565 1901,562 1904,561 1906,560 1909,562" fill="#181818"/><polygon points="1940,567 1940,569 1937,571 1935,571 1932,570 1932,567 1933,564 1934,563 1937,563 1939,565" fill="#181818"/><polygon points="1865,593 1865,596 1862,599 1858,599 1853,597 1853,593 1855,590 1858,587 1862,587 1865,589" fill="#181818"/><polygon points="1883,607 1882,609 1880,611 1878,611 1875,609 1875,607 1875,604 1878,603 1880,603 1883,604" fill="#181818"/><polygon points="1798,359 1798,360 1797,362 1794,362 1792,361 1792,358 1792,356 1795,355 1796,355 1798,357" fill="#181818"/><polygon points="1821,525 1820,528 1817,529 1815,530 1812,528 1811,525 1812,522 1815,521 1817,521 1821,523" fill="#505050"/><polygon points="1933,394 1934,398 1927,401 1920,401 1915,398 1913,395 1914,391 1921,389 1926,389 1932,391" fill="#202020"/><polygon points="1928,427 1926,435 1923,438 1921,438 1919,434 1918,427 1919,421 1921,419 1924,419 1927,421" fill="#202020"/><polygon points="1951,463 1950,471 1946,473 1940,471 1936,470 1934,464 1936,455 1940,452 1944,454 1951,457" fill="#202020"/><polygon points="1892,379 1891,382 1884,386 1871,385 1863,384 1859,378 1860,374 1869,371 1881,372 1889,374" fill="#242424"/><polygon points="1699,414 1698,418 1696,420 1692,420 1689,418 1689,413 1690,410 1692,408 1695,409 1699,410" fill="#202020"/><polygon points="1699,434 1698,438 1697,439 1693,439 1691,438 1691,434 1691,431 1693,429 1696,430 1698,431" fill="#202020"/><polygon points="1628,538 1626,543 1625,544 1622,545 1620,543 1619,538 1620,534 1623,530 1624,530 1627,532" fill="#202020"/><polygon points="1630,402 1629,405 1625,408 1623,407 1620,405 1619,403 1620,400 1622,398 1626,398 1629,400" fill="#282828"/><polygon points="1667,629 1666,639 1661,642 1655,641 1652,638 1650,630 1650,622 1656,616 1662,616 1665,620" fill="#202020"/><polygon points="1871,635 1870,638 1868,641 1866,640 1863,639 1862,633 1863,629 1865,628 1868,627 1870,630" fill="#202020"/><polygon points="1830,386 1829,392 1824,396 1822,396 1818,391 1816,386 1818,381 1821,379 1825,378 1828,380" fill="#282828"/><polygon points="1491,627 1553,627 1549,646 1524,650 1512,668 1504,652 1493,644" fill="#0c0c0c"/><polygon points="1592,645 1620,643 1612,666 1583,672 1579,662" fill="#101010"/><polygon points="1415,649 1448,653 1477,678 1448,682 1444,719 1434,721 1432,688 1415,672" fill="#101010"/><polygon points="1392,627 1406,633 1388,662 1371,664 1376,646" fill="#141414"/><polygon points="1294,656 1294,661 1291,663 1287,665 1285,661 1285,657 1285,651 1287,647 1291,647 1295,652" fill="#181818"/><polygon points="1364,681 1367,684 1354,685 1344,685 1331,684 1331,681 1329,678 1343,677 1354,676 1366,678" fill="#282828"/><polygon points="1372,710 1373,723 1367,729 1363,730 1359,723 1356,709 1358,701 1362,695 1368,692 1373,700" fill="#242424"/><polygon points="1305,731 1323,739 1317,763 1297,772 1284,767 1284,755 1303,751" fill="#101010"/><polygon points="1363,747 1363,752 1354,757 1345,757 1340,754 1338,748 1340,743 1348,739 1356,739 1361,743" fill="#181818"/><polygon points="1394,749 1431,740 1439,767 1415,771" fill="#141414"/><polygon points="1511,715 1517,752 1496,762 1474,765 1507,744" fill="#101010"/><polygon points="1569,734 1606,738 1623,766 1634,770 1634,787 1619,783 1600,758 1569,746" fill="#0c0c0c"/><polygon points="1614,732 1613,735 1612,738 1609,738 1606,737 1605,733 1606,728 1608,726 1611,726 1614,729" fill="#181818"/><polygon points="1455,796 1453,802 1450,806 1442,806 1434,801 1434,798 1437,791 1443,788 1448,788 1453,791" fill="#181818"/><polygon points="1430,802 1429,806 1427,811 1425,812 1422,807 1421,800 1422,794 1424,790 1427,791 1430,793" fill="#282828"/><polygon points="1387,797 1386,803 1374,804 1365,804 1353,801 1353,796 1355,792 1364,788 1377,788 1384,793" fill="#181818"/><polygon points="1294,819 1314,815 1341,839 1335,852 1310,843" fill="#141414"/><polygon points="1485,818 1499,835 1489,849 1469,847 1475,831" fill="#0c0c0c"/><polygon points="1450,875 1449,890 1442,893 1427,891 1417,889 1418,877 1420,867 1428,862 1439,863 1449,865" fill="#0c0c0c"/><polygon points="1586,826 1621,828 1619,849 1596,845" fill="#101010"/><polygon points="1542,891 1540,898 1527,903 1519,903 1502,898 1504,891 1508,882 1514,879 1528,878 1541,882" fill="#141414"/><polygon points="1577,898 1576,902 1567,905 1560,905 1549,902 1547,898 1551,893 1557,889 1568,889 1578,892" fill="#181818"/><polygon points="1612,890 1610,899 1603,903 1596,903 1589,898 1586,890 1589,883 1595,881 1604,880 1610,886" fill="#141414"/><polygon points="1357,887 1356,893 1352,900 1342,898 1336,896 1334,886 1335,879 1342,875 1349,874 1358,878" fill="#141414"/><polygon points="1400,905 1400,914 1392,917 1390,916 1383,914 1384,905 1384,900 1388,896 1393,895 1397,899" fill="#141414"/><polygon points="1307,909 1305,915 1298,916 1292,916 1286,914 1285,910 1287,905 1292,903 1298,904 1303,905" fill="#181818"/><polygon points="1486,911 1485,915 1483,916 1480,917 1478,915 1477,910 1477,908 1480,905 1483,906 1485,908" fill="#202020"/><polygon points="1525,709 1524,713 1522,715 1518,714 1514,712 1514,709 1515,705 1518,704 1521,704 1525,705" fill="#141414"/><polygon points="1502,807 1503,810 1499,812 1497,811 1494,809 1493,807 1494,803 1496,802 1499,802 1502,804" fill="#202020"/><polygon points="1604,678 1603,682 1600,683 1598,684 1596,682 1594,678 1595,675 1598,674 1601,674 1603,676" fill="#202020"/><polygon points="1453,636 1452,640 1449,642 1445,644 1441,641 1441,637 1441,633 1446,631 1448,631 1452,634" fill="#181818"/><polygon points="1475,649 1476,652 1472,654 1470,653 1467,652 1466,649 1467,647 1469,644 1472,645 1475,646" fill="#282828"/><polygon points="1573,706 1570,710 1564,712 1555,712 1547,710 1547,707 1548,702 1555,701 1564,700 1570,703" fill="#303030"/><polygon points="1576,730 1577,737 1569,738 1557,739 1548,735 1550,731 1550,724 1559,724 1569,722 1578,725" fill="#484848"/><polygon points="1325,849 1325,852 1322,854 1317,854 1315,854 1313,850 1315,846 1318,845 1322,844 1325,846" fill="#282828"/><polygon points="1372,862 1372,868 1366,871 1361,871 1357,868 1355,863 1357,858 1362,855 1366,854 1370,858" fill="#282828"/><polygon points="1649,657 1680,663 1680,688 1663,690 1653,675" fill="#0c0c0c"/><polygon points="1734,640 1746,644 1750,685 1738,687 1732,665" fill="#101010"/><polygon points="1701,649 1702,651 1693,654 1686,653 1675,651 1677,648 1676,646 1685,643 1691,644 1701,644" fill="#202020"/><polygon points="1703,700 1699,702 1695,704 1684,703 1680,702 1676,699 1679,696 1687,696 1694,695 1700,697" fill="#202020"/><polygon points="1717,762 1746,760 1762,779 1746,791 1717,807 1688,807 1684,787 1692,770" fill="#080808"/><polygon points="1673,728 1687,730 1692,776 1671,784 1665,755" fill="#282828"/><polygon points="1755,707 1777,719 1789,736 1777,740 1761,724" fill="#181818"/><polygon points="1852,679 1851,686 1842,689 1837,688 1828,683 1827,678 1829,670 1836,667 1842,666 1849,669" fill="#101010"/><polygon points="1834,646 1834,650 1829,651 1824,652 1822,649 1820,646 1822,641 1826,640 1829,640 1833,642" fill="#141414"/><polygon points="1853,713 1853,728 1850,737 1846,736 1842,732 1841,718 1843,699 1846,696 1849,696 1852,700" fill="#202020"/><polygon points="1825,739 1854,730 1866,751 1858,779 1838,777 1831,757" fill="#141414"/><polygon points="1919,676 1919,682 1914,690 1906,688 1897,686 1897,675 1898,664 1905,660 1911,660 1918,662" fill="#101010"/><polygon points="1906,721 1906,725 1901,729 1896,728 1891,726 1890,721 1890,713 1896,712 1900,712 1905,714" fill="#202020"/><polygon points="1921,748 1916,756 1899,759 1878,761 1856,758 1854,751 1861,743 1880,739 1896,739 1920,742" fill="#202020"/><polygon points="1945,711 1944,718 1939,721 1931,721 1924,718 1925,711 1925,705 1932,702 1938,702 1942,706" fill="#1c1c1c"/><polygon points="1771,807 1796,805 1784,831 1769,836" fill="#0c0c0c"/><polygon points="1840,807 1902,805 1906,835 1857,835" fill="#101010"/><polygon points="1950,768 1960,770 1960,827 1946,821 1939,801" fill="#141414"/><polygon points="1743,885 1772,877 1780,894 1763,919 1723,902" fill="#0c0c0c"/><polygon points="1778,874 1777,880 1773,884 1766,883 1763,879 1762,872 1762,866 1768,864 1771,864 1776,867" fill="#101010"/><polygon points="1819,894 1817,903 1813,908 1805,909 1799,904 1799,893 1802,886 1806,882 1813,883 1817,887" fill="#101010"/><polygon points="1835,882 1836,885 1831,888 1825,888 1822,885 1820,882 1821,879 1825,876 1830,875 1835,879" fill="#181818"/><polygon points="1919,850 1919,855 1916,858 1914,858 1912,855 1911,851 1912,845 1913,842 1917,843 1918,846" fill="#202020"/><polygon points="1914,895 1912,899 1907,902 1901,902 1894,900 1892,896 1894,892 1900,890 1906,890 1912,891" fill="#202020"/><polygon points="1959,886 1959,896 1951,904 1943,902 1932,896 1930,885 1933,878 1938,870 1949,872 1958,874" fill="#303030"/><polygon points="1632,764 1630,773 1627,780 1624,779 1620,773 1618,767 1620,753 1623,751 1627,749 1630,756" fill="#181818"/><polygon points="1646,785 1644,787 1641,788 1635,788 1629,787 1629,785 1630,784 1635,782 1640,783 1644,783" fill="#181818"/><polygon points="1652,642 1652,648 1641,651 1629,650 1620,647 1618,642 1620,638 1632,635 1638,635 1652,636" fill="#383838"/><polygon points="1808,776 1808,785 1803,787 1797,788 1793,785 1792,776 1792,769 1799,762 1804,763 1808,769" fill="#282828"/><polygon points="1850,782 1849,785 1847,787 1845,787 1843,785 1841,783 1842,780 1844,779 1848,779 1849,780" fill="#282828"/><polygon points="1781,656 1780,658 1777,660 1775,660 1773,657 1772,656 1772,652 1775,651 1778,651 1781,652" fill="#181818"/><polygon points="1796,672 1796,674 1793,676 1790,676 1787,675 1787,672 1788,669 1791,667 1794,667 1796,668" fill="#181818"/><polygon points="1654,737 1653,740 1650,742 1647,742 1645,740 1645,738 1645,735 1646,733 1650,734 1652,734" fill="#181818"/><polygon points="1800,725 1799,727 1796,729 1795,728 1792,728 1791,725 1791,722 1795,721 1797,721 1799,722" fill="#181818"/><polygon points="1817,686 1818,692 1812,698 1806,698 1802,696 1800,683 1802,678 1807,670 1811,671 1815,677" fill="#282828"/></g></g><rect x="1755.4" y="789.2" width="174.6" height="14.5" fill="#fff"/><text transform="matrix(0.6888 0 0 0.7535 1774.03 875.00)" font-family="'Liberation Sans', sans-serif" font-size="100" fill="#fff" stroke="#fff" stroke-width="3" stroke-linejoin="round">1µm</text></g>
<g id="markers"><text transform="matrix(0.3765 0 0 0.4471 631.51 607.42)" font-family="'DejaVu Sans', sans-serif" font-size="100" fill="#000" >■</text><text transform="matrix(0.3817 0 0 0.4471 802.56 242.12)" font-family="'DejaVu Sans', sans-serif" font-size="100" fill="#000" >■</text><text transform="matrix(0.3739 0 0 0.4536 949.34 185.04)" font-family="'DejaVu Sans', sans-serif" font-size="100" fill="#000" >■</text><text transform="matrix(0.3739 0 0 0.4327 848.74 981.80)" font-family="'DejaVu Sans', sans-serif" font-size="100" fill="#000" >■</text><text transform="matrix(0.3830 0 0 0.4471 1201.05 737.22)" font-family="'DejaVu Sans', sans-serif" font-size="100" fill="#000" >■</text><text transform="matrix(0.3869 0 0 0.4340 1112.72 1051.68)" font-family="'DejaVu Sans', sans-serif" font-size="100" fill="#000" >■</text><text transform="matrix(0.3765 0 0 0.4536 1269.51 1404.34)" font-family="'DejaVu Sans', sans-serif" font-size="100" fill="#000" >■</text><text transform="matrix(0.3739 0 0 0.4209 1362.74 1214.04)" font-family="'DejaVu Sans', sans-serif" font-size="100" fill="#000" >■</text><text transform="matrix(0.3869 0 0 0.4536 1394.72 1073.34)" font-family="'DejaVu Sans', sans-serif" font-size="100" fill="#000" >■</text><text transform="matrix(0.3686 0 0 0.4248 1551.78 1362.40)" font-family="'DejaVu Sans', sans-serif" font-size="100" fill="#000" >■</text><text transform="matrix(0.3673 0 0 0.4405 1619.69 1437.30)" font-family="'DejaVu Sans', sans-serif" font-size="100" fill="#000" >■</text><text transform="matrix(0.3765 0 0 0.4392 1683.41 1449.12)" font-family="'DejaVu Sans', sans-serif" font-size="100" fill="#000" >■</text><text transform="matrix(0.3765 0 0 0.4405 1765.81 1433.30)" font-family="'DejaVu Sans', sans-serif" font-size="100" fill="#000" >■</text><text transform="matrix(0.3407 0 0 0.4138 567.97 1174.20)" font-family="'DejaVu Sans', sans-serif" font-size="100" fill="#000" stroke="#000" stroke-width="14" stroke-linejoin="round">★</text><text transform="matrix(0.3407 0 0 0.4138 685.97 1451.70)" font-family="'DejaVu Sans', sans-serif" font-size="100" fill="#000" stroke="#000" stroke-width="14" stroke-linejoin="round">★</text><text transform="matrix(0.3407 0 0 0.4138 739.07 1447.90)" font-family="'DejaVu Sans', sans-serif" font-size="100" fill="#000" stroke="#000" stroke-width="14" stroke-linejoin="round">★</text><text transform="matrix(0.3407 0 0 0.4138 1202.77 696.80)" font-family="'DejaVu Sans', sans-serif" font-size="100" fill="#000" stroke="#000" stroke-width="14" stroke-linejoin="round">★</text><text transform="matrix(0.3407 0 0 0.4138 1114.67 1012.70)" font-family="'DejaVu Sans', sans-serif" font-size="100" fill="#000" stroke="#000" stroke-width="14" stroke-linejoin="round">★</text><text transform="matrix(0.3407 0 0 0.4138 1396.17 1033.10)" font-family="'DejaVu Sans', sans-serif" font-size="100" fill="#000" stroke="#000" stroke-width="14" stroke-linejoin="round">★</text><text transform="matrix(0.3407 0 0 0.4138 1551.97 1322.90)" font-family="'DejaVu Sans', sans-serif" font-size="100" fill="#000" stroke="#000" stroke-width="14" stroke-linejoin="round">★</text><text transform="matrix(0.3407 0 0 0.4138 1620.47 1397.60)" font-family="'DejaVu Sans', sans-serif" font-size="100" fill="#000" stroke="#000" stroke-width="14" stroke-linejoin="round">★</text><text transform="matrix(0.3407 0 0 0.4138 1766.27 1394.60)" font-family="'DejaVu Sans', sans-serif" font-size="100" fill="#000" stroke="#000" stroke-width="14" stroke-linejoin="round">★</text></g>
<g id="legend"><text transform="matrix(0.3869 0 0 0.4144 1600.62 138.42)" font-family="'DejaVu Sans', sans-serif" font-size="100" fill="#000" >■</text><text transform="matrix(0.3407 0 0 0.4138 1605.47 220.60)" font-family="'DejaVu Sans', sans-serif" font-size="100" fill="#000" stroke="#000" stroke-width="14" stroke-linejoin="round">★</text></g>
<g id="arrow"><polygon points="1776.9,237.5 1738.8,297.8 1728.0,290.9 1720.4,339.4 1760.9,311.8 1750.2,305.0 1788.3,244.7" fill="#e5161d"/></g>
<g id="labels">
<text transform="matrix(0 -0.8853 0.7229 0 103.70 1057.28)" font-family="'Liberation Sans', sans-serif" font-weight="bold" font-size="100" fill="#000" stroke="#000" stroke-width="2" stroke-linejoin="round">Intensity (a.u.)</text>
<text transform="matrix(0.6597 0 0 0.7180 170.66 1674.68)" font-family="'Liberation Sans', sans-serif" font-size="100" fill="#1a1a1a" stroke="#1a1a1a" stroke-width="3" stroke-linejoin="round">0</text>
<text transform="matrix(0.6103 0 0 0.7180 515.05 1674.68)" font-family="'Liberation Sans', sans-serif" font-size="100" fill="#1a1a1a" stroke="#1a1a1a" stroke-width="3" stroke-linejoin="round">20</text>
<text transform="matrix(0.6181 0 0 0.7180 870.71 1674.68)" font-family="'Liberation Sans', sans-serif" font-size="100" fill="#1a1a1a" stroke="#1a1a1a" stroke-width="3" stroke-linejoin="round">40</text>
<text transform="matrix(0.6230 0 0 0.7180 1231.09 1674.68)" font-family="'Liberation Sans', sans-serif" font-size="100" fill="#1a1a1a" stroke="#1a1a1a" stroke-width="3" stroke-linejoin="round">60</text>
<text transform="matrix(0.6068 0 0 0.7180 1587.92 1674.68)" font-family="'Liberation Sans', sans-serif" font-size="100" fill="#1a1a1a" stroke="#1a1a1a" stroke-width="3" stroke-linejoin="round">80</text>
<text transform="matrix(0.6096 0 0 0.7180 1930.63 1674.68)" font-family="'Liberation Sans', sans-serif" font-size="100" fill="#1a1a1a" stroke="#1a1a1a" stroke-width="3" stroke-linejoin="round">100</text>
<text transform="matrix(0.7471 0 0 0.9076 802.58 1808.40)" font-family="'Liberation Sans', sans-serif" font-weight="bold" font-size="100" fill="#000" >2Theta (degree)</text>
<text transform="matrix(0.5062 0 0 0.5357 1669.98 142.76)" font-family="'Liberation Sans', sans-serif" font-weight="bold" font-size="100" fill="#000" stroke="#000" stroke-width="2.4" stroke-linejoin="round">Corundum</text>
<text transform="matrix(0.5041 0 0 0.5512 1669.98 225.75)" font-family="'Liberation Sans', sans-serif" font-weight="bold" font-size="100" fill="#000" stroke="#000" stroke-width="2.4" stroke-linejoin="round">Cristobalite</text>
<text transform="matrix(0.6415 0 0 0.7302 1437.77 990.00)" font-family="'Liberation Sans', sans-serif" font-weight="bold" font-size="100" fill="#111" >Rice husk ash</text>
</g>
</g>
</svg>
</body></html>
